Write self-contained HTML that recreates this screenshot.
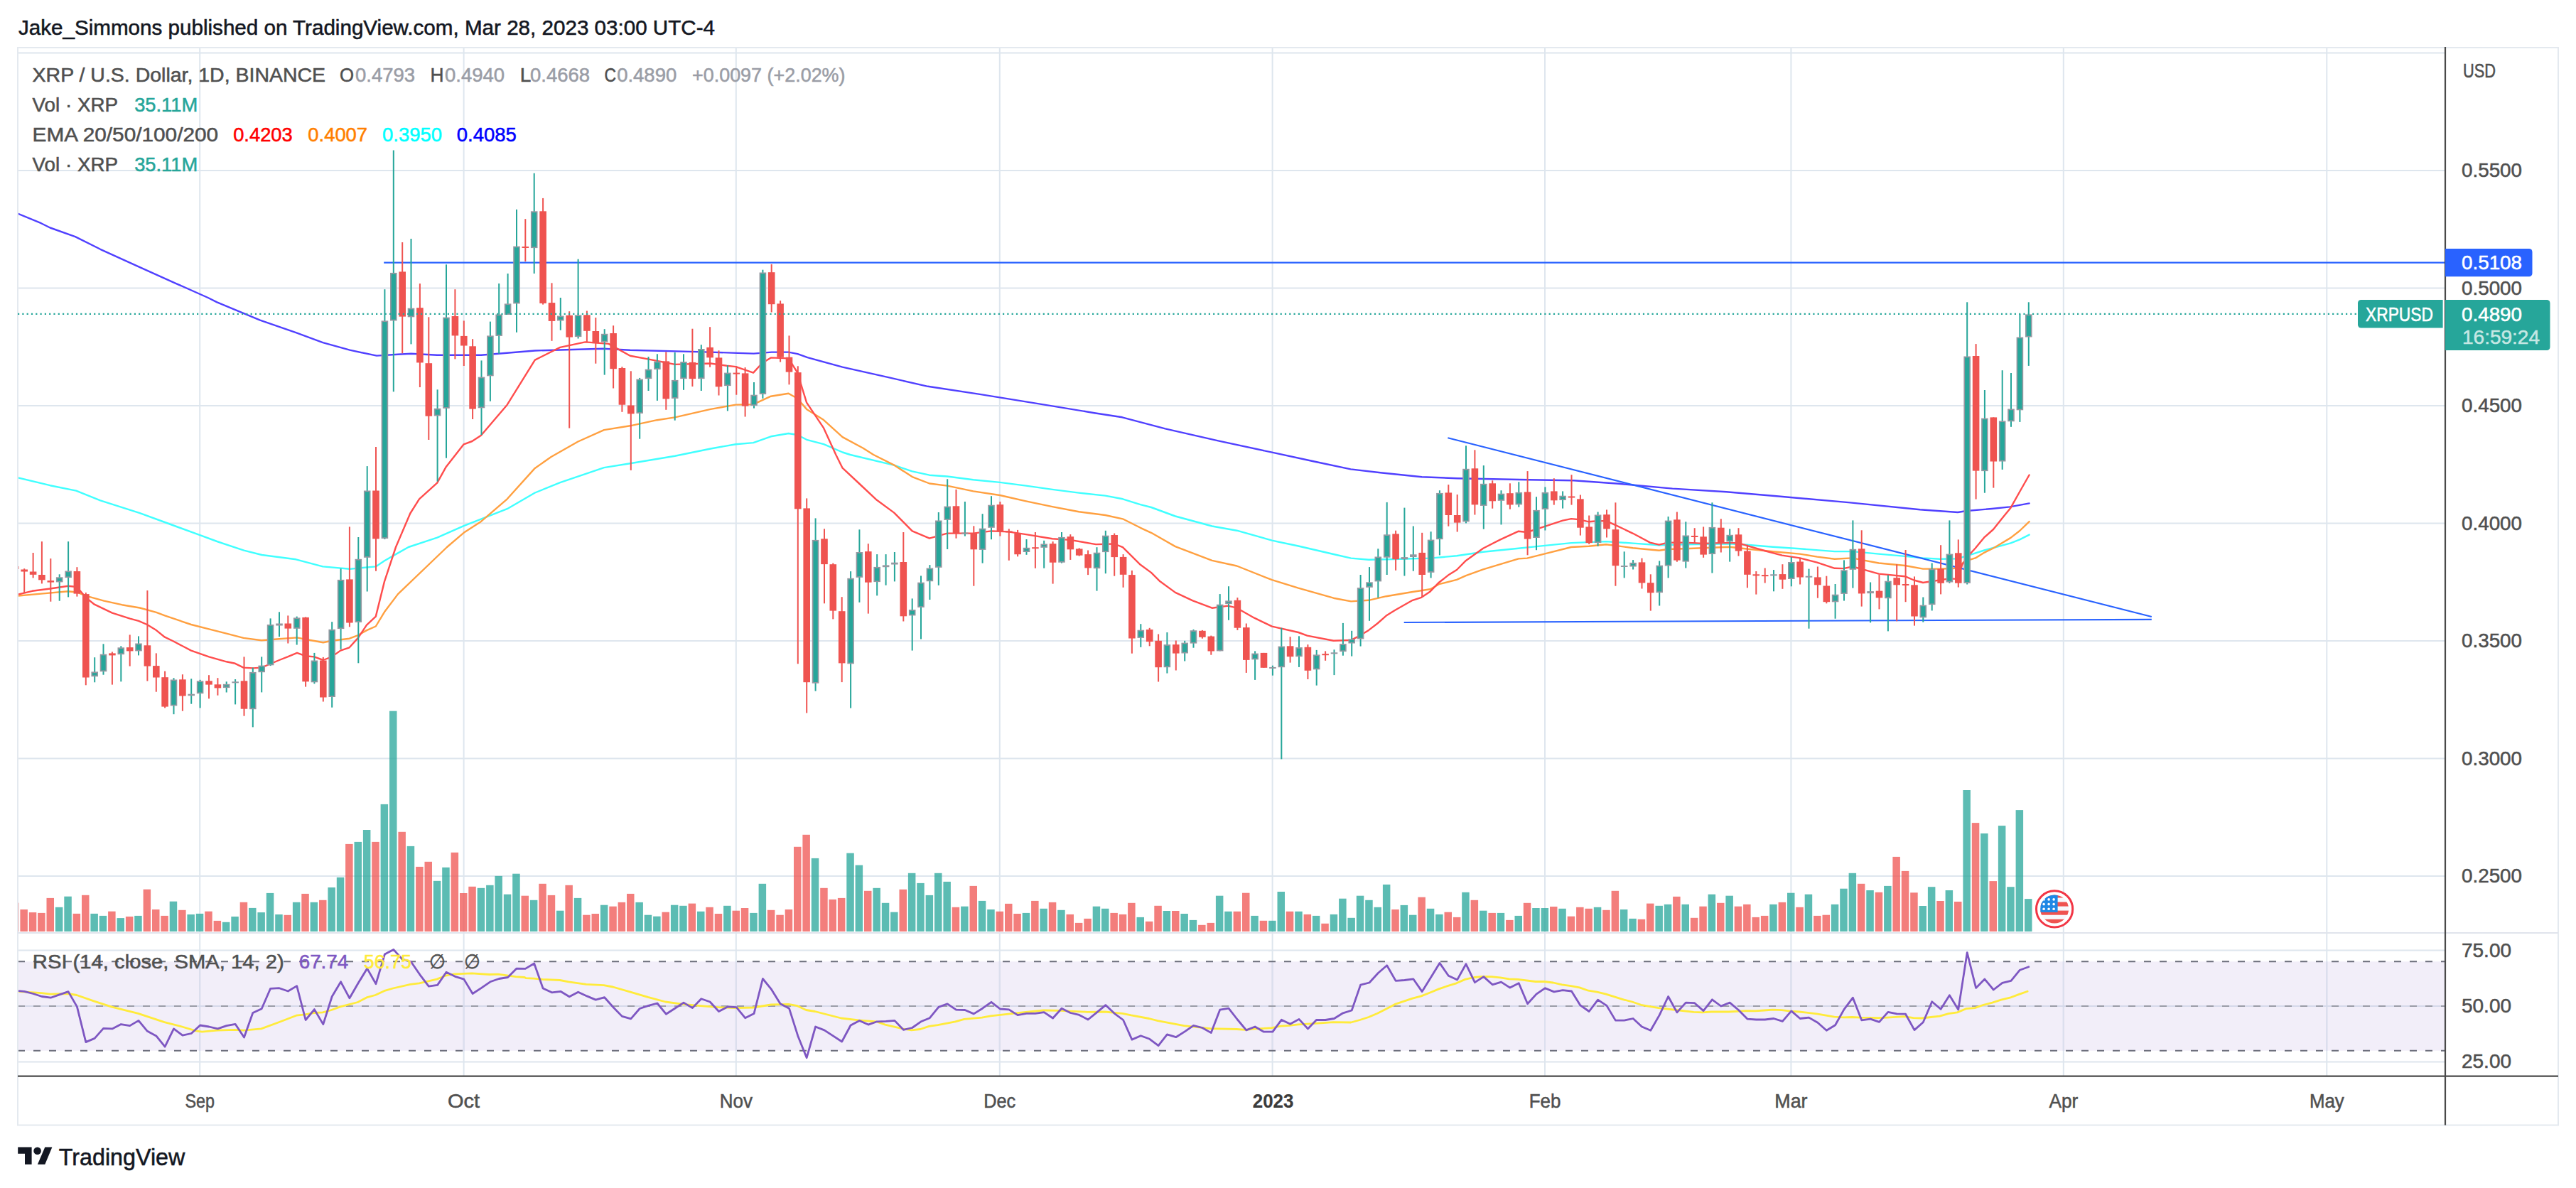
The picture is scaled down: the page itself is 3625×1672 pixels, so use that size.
<!DOCTYPE html>
<html><head><meta charset="utf-8"><title>XRPUSD chart</title>
<style>html,body{margin:0;padding:0;background:#fff;}body{width:3625px;height:1672px;overflow:hidden;font-family:"Liberation Sans",sans-serif;}svg{display:block;}</style></head>
<body>
<svg width="3625" height="1672" viewBox="0 0 3625 1672" font-family="Liberation Sans, sans-serif">
<rect width="3625" height="1672" fill="#fff"/>
<text x="26" y="49" font-size="30" fill="#131722" stroke="#131722" stroke-width="0.55" textLength="980" lengthAdjust="spacingAndGlyphs">Jake_Simmons published on TradingView.com, Mar 28, 2023 03:00 UTC-4</text>
<defs><clipPath id="cp"><rect x="26" y="67" width="3414" height="1246"/></clipPath>
<clipPath id="cr"><rect x="26" y="1313" width="3414" height="201.70000000000005"/></clipPath></defs>
<line x1="281.2" y1="67" x2="281.2" y2="1514.7" stroke="#dee6ee" stroke-width="2"/>
<line x1="652.6" y1="67" x2="652.6" y2="1514.7" stroke="#dee6ee" stroke-width="2"/>
<line x1="1035.8" y1="67" x2="1035.8" y2="1514.7" stroke="#dee6ee" stroke-width="2"/>
<line x1="1406.8" y1="67" x2="1406.8" y2="1514.7" stroke="#dee6ee" stroke-width="2"/>
<line x1="1790.6" y1="67" x2="1790.6" y2="1514.7" stroke="#dee6ee" stroke-width="2"/>
<line x1="2174" y1="67" x2="2174" y2="1514.7" stroke="#dee6ee" stroke-width="2"/>
<line x1="2520.4" y1="67" x2="2520.4" y2="1514.7" stroke="#dee6ee" stroke-width="2"/>
<line x1="2903.8" y1="67" x2="2903.8" y2="1514.7" stroke="#dee6ee" stroke-width="2"/>
<line x1="3274.3" y1="67" x2="3274.3" y2="1514.7" stroke="#dee6ee" stroke-width="2"/>
<line x1="25" y1="74.5" x2="3441" y2="74.5" stroke="#dee6ee" stroke-width="2"/>
<line x1="25" y1="240" x2="3441" y2="240" stroke="#dee6ee" stroke-width="2"/>
<line x1="25" y1="405.5" x2="3441" y2="405.5" stroke="#dee6ee" stroke-width="2"/>
<line x1="25" y1="571" x2="3441" y2="571" stroke="#dee6ee" stroke-width="2"/>
<line x1="25" y1="736.5" x2="3441" y2="736.5" stroke="#dee6ee" stroke-width="2"/>
<line x1="25" y1="902" x2="3441" y2="902" stroke="#dee6ee" stroke-width="2"/>
<line x1="25" y1="1067.5" x2="3441" y2="1067.5" stroke="#dee6ee" stroke-width="2"/>
<line x1="25" y1="1233" x2="3441" y2="1233" stroke="#dee6ee" stroke-width="2"/>
<line x1="25" y1="1337.6" x2="3441" y2="1337.6" stroke="#dee6ee" stroke-width="2"/>
<line x1="25" y1="1416" x2="3441" y2="1416" stroke="#dee6ee" stroke-width="2"/>
<line x1="25" y1="1494.4" x2="3441" y2="1494.4" stroke="#dee6ee" stroke-width="2"/>
<rect x="26" y="1353.3" width="3414" height="125.4" fill="#7e57c2" fill-opacity="0.1"/>
<line x1="281.2" y1="1353.3" x2="281.2" y2="1478.7" stroke="#dcdfee" stroke-width="2"/>
<line x1="652.6" y1="1353.3" x2="652.6" y2="1478.7" stroke="#dcdfee" stroke-width="2"/>
<line x1="1035.8" y1="1353.3" x2="1035.8" y2="1478.7" stroke="#dcdfee" stroke-width="2"/>
<line x1="1406.8" y1="1353.3" x2="1406.8" y2="1478.7" stroke="#dcdfee" stroke-width="2"/>
<line x1="1790.6" y1="1353.3" x2="1790.6" y2="1478.7" stroke="#dcdfee" stroke-width="2"/>
<line x1="2174" y1="1353.3" x2="2174" y2="1478.7" stroke="#dcdfee" stroke-width="2"/>
<line x1="2520.4" y1="1353.3" x2="2520.4" y2="1478.7" stroke="#dcdfee" stroke-width="2"/>
<line x1="2903.8" y1="1353.3" x2="2903.8" y2="1478.7" stroke="#dcdfee" stroke-width="2"/>
<line x1="3274.3" y1="1353.3" x2="3274.3" y2="1478.7" stroke="#dcdfee" stroke-width="2"/>
<line x1="25" y1="1416" x2="3441" y2="1416" stroke="#d5d9ea" stroke-width="2"/>
<g clip-path="url(#cp)">
<rect x="16" y="1270.6" width="10.5" height="40.4" fill="#ef5350" fill-opacity="0.75"/>
<rect x="28.4" y="1280" width="10.5" height="31" fill="#ef5350" fill-opacity="0.75"/>
<rect x="40.8" y="1284.1" width="10.5" height="26.9" fill="#ef5350" fill-opacity="0.75"/>
<rect x="53.1" y="1284.9" width="10.5" height="26.1" fill="#ef5350" fill-opacity="0.75"/>
<rect x="65.5" y="1263.9" width="10.5" height="47.1" fill="#ef5350" fill-opacity="0.75"/>
<rect x="77.9" y="1276.8" width="10.5" height="34.2" fill="#26a69a" fill-opacity="0.75"/>
<rect x="90.3" y="1261.7" width="10.5" height="49.3" fill="#26a69a" fill-opacity="0.75"/>
<rect x="102.6" y="1285.9" width="10.5" height="25.1" fill="#ef5350" fill-opacity="0.75"/>
<rect x="115" y="1259.8" width="10.5" height="51.2" fill="#ef5350" fill-opacity="0.75"/>
<rect x="127.4" y="1285.9" width="10.5" height="25.1" fill="#26a69a" fill-opacity="0.75"/>
<rect x="139.7" y="1288.9" width="10.5" height="22.1" fill="#26a69a" fill-opacity="0.75"/>
<rect x="152.1" y="1282.7" width="10.5" height="28.3" fill="#ef5350" fill-opacity="0.75"/>
<rect x="164.5" y="1292.1" width="10.5" height="18.9" fill="#26a69a" fill-opacity="0.75"/>
<rect x="176.9" y="1290" width="10.5" height="21" fill="#ef5350" fill-opacity="0.75"/>
<rect x="189.2" y="1288.9" width="10.5" height="22.1" fill="#26a69a" fill-opacity="0.75"/>
<rect x="201.6" y="1251.7" width="10.5" height="59.3" fill="#ef5350" fill-opacity="0.75"/>
<rect x="214" y="1280" width="10.5" height="31" fill="#ef5350" fill-opacity="0.75"/>
<rect x="226.3" y="1288.9" width="10.5" height="22.1" fill="#ef5350" fill-opacity="0.75"/>
<rect x="238.7" y="1268.7" width="10.5" height="42.3" fill="#26a69a" fill-opacity="0.75"/>
<rect x="251.1" y="1280.8" width="10.5" height="30.2" fill="#ef5350" fill-opacity="0.75"/>
<rect x="263.4" y="1287" width="10.5" height="24" fill="#26a69a" fill-opacity="0.75"/>
<rect x="275.8" y="1285.9" width="10.5" height="25.1" fill="#26a69a" fill-opacity="0.75"/>
<rect x="288.2" y="1282.7" width="10.5" height="28.3" fill="#ef5350" fill-opacity="0.75"/>
<rect x="300.6" y="1295.9" width="10.5" height="15.1" fill="#ef5350" fill-opacity="0.75"/>
<rect x="312.9" y="1297.8" width="10.5" height="13.2" fill="#26a69a" fill-opacity="0.75"/>
<rect x="325.3" y="1290" width="10.5" height="21" fill="#26a69a" fill-opacity="0.75"/>
<rect x="337.7" y="1269.8" width="10.5" height="41.2" fill="#ef5350" fill-opacity="0.75"/>
<rect x="350" y="1277.9" width="10.5" height="33.1" fill="#26a69a" fill-opacity="0.75"/>
<rect x="362.4" y="1284.1" width="10.5" height="26.9" fill="#26a69a" fill-opacity="0.75"/>
<rect x="374.8" y="1256.9" width="10.5" height="54.1" fill="#26a69a" fill-opacity="0.75"/>
<rect x="387.2" y="1287" width="10.5" height="24" fill="#26a69a" fill-opacity="0.75"/>
<rect x="399.5" y="1287.8" width="10.5" height="23.2" fill="#ef5350" fill-opacity="0.75"/>
<rect x="411.9" y="1269.8" width="10.5" height="41.2" fill="#26a69a" fill-opacity="0.75"/>
<rect x="424.3" y="1257.9" width="10.5" height="53.1" fill="#ef5350" fill-opacity="0.75"/>
<rect x="436.6" y="1269.8" width="10.5" height="41.2" fill="#26a69a" fill-opacity="0.75"/>
<rect x="449" y="1266.8" width="10.5" height="44.2" fill="#ef5350" fill-opacity="0.75"/>
<rect x="461.4" y="1249" width="10.5" height="62" fill="#26a69a" fill-opacity="0.75"/>
<rect x="473.8" y="1234.8" width="10.5" height="76.2" fill="#26a69a" fill-opacity="0.75"/>
<rect x="486.1" y="1187.9" width="10.5" height="123.1" fill="#ef5350" fill-opacity="0.75"/>
<rect x="498.5" y="1184.9" width="10.5" height="126.1" fill="#26a69a" fill-opacity="0.75"/>
<rect x="510.9" y="1168" width="10.5" height="143" fill="#26a69a" fill-opacity="0.75"/>
<rect x="523.2" y="1184.9" width="10.5" height="126.1" fill="#ef5350" fill-opacity="0.75"/>
<rect x="535.6" y="1131.9" width="10.5" height="179.1" fill="#26a69a" fill-opacity="0.75"/>
<rect x="548" y="1000.7" width="10.5" height="310.3" fill="#26a69a" fill-opacity="0.75"/>
<rect x="560.4" y="1170.8" width="10.5" height="140.2" fill="#ef5350" fill-opacity="0.75"/>
<rect x="572.7" y="1190.9" width="10.5" height="120.1" fill="#26a69a" fill-opacity="0.75"/>
<rect x="585.1" y="1219.9" width="10.5" height="91.1" fill="#ef5350" fill-opacity="0.75"/>
<rect x="597.5" y="1212.8" width="10.5" height="98.2" fill="#ef5350" fill-opacity="0.75"/>
<rect x="609.8" y="1239.8" width="10.5" height="71.2" fill="#26a69a" fill-opacity="0.75"/>
<rect x="622.2" y="1220.8" width="10.5" height="90.2" fill="#26a69a" fill-opacity="0.75"/>
<rect x="634.6" y="1199.8" width="10.5" height="111.2" fill="#ef5350" fill-opacity="0.75"/>
<rect x="647" y="1257" width="10.5" height="54" fill="#ef5350" fill-opacity="0.75"/>
<rect x="659.3" y="1247.8" width="10.5" height="63.2" fill="#ef5350" fill-opacity="0.75"/>
<rect x="671.7" y="1249.8" width="10.5" height="61.2" fill="#26a69a" fill-opacity="0.75"/>
<rect x="684.1" y="1245.8" width="10.5" height="65.2" fill="#26a69a" fill-opacity="0.75"/>
<rect x="696.4" y="1232.9" width="10.5" height="78.1" fill="#26a69a" fill-opacity="0.75"/>
<rect x="708.8" y="1258.7" width="10.5" height="52.3" fill="#26a69a" fill-opacity="0.75"/>
<rect x="721.2" y="1229.7" width="10.5" height="81.3" fill="#26a69a" fill-opacity="0.75"/>
<rect x="733.5" y="1260.7" width="10.5" height="50.3" fill="#ef5350" fill-opacity="0.75"/>
<rect x="745.9" y="1266.8" width="10.5" height="44.2" fill="#26a69a" fill-opacity="0.75"/>
<rect x="758.3" y="1243.8" width="10.5" height="67.2" fill="#ef5350" fill-opacity="0.75"/>
<rect x="770.7" y="1259.9" width="10.5" height="51.1" fill="#ef5350" fill-opacity="0.75"/>
<rect x="783" y="1281.7" width="10.5" height="29.3" fill="#26a69a" fill-opacity="0.75"/>
<rect x="795.4" y="1245.8" width="10.5" height="65.2" fill="#ef5350" fill-opacity="0.75"/>
<rect x="807.8" y="1263.9" width="10.5" height="47.1" fill="#26a69a" fill-opacity="0.75"/>
<rect x="820.1" y="1287.7" width="10.5" height="23.3" fill="#ef5350" fill-opacity="0.75"/>
<rect x="832.5" y="1286" width="10.5" height="25" fill="#ef5350" fill-opacity="0.75"/>
<rect x="844.9" y="1273.7" width="10.5" height="37.3" fill="#26a69a" fill-opacity="0.75"/>
<rect x="857.3" y="1275.7" width="10.5" height="35.3" fill="#ef5350" fill-opacity="0.75"/>
<rect x="869.6" y="1269.9" width="10.5" height="41.1" fill="#ef5350" fill-opacity="0.75"/>
<rect x="882" y="1257.9" width="10.5" height="53.1" fill="#ef5350" fill-opacity="0.75"/>
<rect x="894.4" y="1269.9" width="10.5" height="41.1" fill="#26a69a" fill-opacity="0.75"/>
<rect x="906.7" y="1287.7" width="10.5" height="23.3" fill="#26a69a" fill-opacity="0.75"/>
<rect x="919.1" y="1289.7" width="10.5" height="21.3" fill="#26a69a" fill-opacity="0.75"/>
<rect x="931.5" y="1283.7" width="10.5" height="27.3" fill="#ef5350" fill-opacity="0.75"/>
<rect x="943.9" y="1273.7" width="10.5" height="37.3" fill="#26a69a" fill-opacity="0.75"/>
<rect x="956.2" y="1274.8" width="10.5" height="36.2" fill="#26a69a" fill-opacity="0.75"/>
<rect x="968.6" y="1271.6" width="10.5" height="39.4" fill="#ef5350" fill-opacity="0.75"/>
<rect x="981" y="1282.8" width="10.5" height="28.2" fill="#26a69a" fill-opacity="0.75"/>
<rect x="993.3" y="1276.8" width="10.5" height="34.2" fill="#ef5350" fill-opacity="0.75"/>
<rect x="1005.7" y="1286" width="10.5" height="25" fill="#ef5350" fill-opacity="0.75"/>
<rect x="1018.1" y="1274.8" width="10.5" height="36.2" fill="#26a69a" fill-opacity="0.75"/>
<rect x="1030.5" y="1281.7" width="10.5" height="29.3" fill="#ef5350" fill-opacity="0.75"/>
<rect x="1042.8" y="1278" width="10.5" height="33" fill="#ef5350" fill-opacity="0.75"/>
<rect x="1055.2" y="1284.9" width="10.5" height="26.1" fill="#26a69a" fill-opacity="0.75"/>
<rect x="1067.6" y="1243.8" width="10.5" height="67.2" fill="#26a69a" fill-opacity="0.75"/>
<rect x="1079.9" y="1280.8" width="10.5" height="30.2" fill="#ef5350" fill-opacity="0.75"/>
<rect x="1092.3" y="1287.7" width="10.5" height="23.3" fill="#ef5350" fill-opacity="0.75"/>
<rect x="1104.7" y="1280" width="10.5" height="31" fill="#ef5350" fill-opacity="0.75"/>
<rect x="1117" y="1191.8" width="10.5" height="119.2" fill="#ef5350" fill-opacity="0.75"/>
<rect x="1129.4" y="1174.8" width="10.5" height="136.2" fill="#ef5350" fill-opacity="0.75"/>
<rect x="1141.8" y="1207.9" width="10.5" height="103.1" fill="#26a69a" fill-opacity="0.75"/>
<rect x="1154.2" y="1249.8" width="10.5" height="61.2" fill="#ef5350" fill-opacity="0.75"/>
<rect x="1166.5" y="1265.9" width="10.5" height="45.1" fill="#ef5350" fill-opacity="0.75"/>
<rect x="1178.9" y="1263.9" width="10.5" height="47.1" fill="#ef5350" fill-opacity="0.75"/>
<rect x="1191.3" y="1200.7" width="10.5" height="110.3" fill="#26a69a" fill-opacity="0.75"/>
<rect x="1203.6" y="1217.6" width="10.5" height="93.4" fill="#26a69a" fill-opacity="0.75"/>
<rect x="1216" y="1253.8" width="10.5" height="57.2" fill="#ef5350" fill-opacity="0.75"/>
<rect x="1228.4" y="1249.8" width="10.5" height="61.2" fill="#26a69a" fill-opacity="0.75"/>
<rect x="1240.8" y="1270.8" width="10.5" height="40.2" fill="#26a69a" fill-opacity="0.75"/>
<rect x="1253.1" y="1283.7" width="10.5" height="27.3" fill="#26a69a" fill-opacity="0.75"/>
<rect x="1265.5" y="1251.8" width="10.5" height="59.2" fill="#ef5350" fill-opacity="0.75"/>
<rect x="1277.9" y="1228.8" width="10.5" height="82.2" fill="#26a69a" fill-opacity="0.75"/>
<rect x="1290.2" y="1242.9" width="10.5" height="68.1" fill="#26a69a" fill-opacity="0.75"/>
<rect x="1302.6" y="1259.9" width="10.5" height="51.1" fill="#26a69a" fill-opacity="0.75"/>
<rect x="1315" y="1228.8" width="10.5" height="82.2" fill="#26a69a" fill-opacity="0.75"/>
<rect x="1327.4" y="1240.9" width="10.5" height="70.1" fill="#26a69a" fill-opacity="0.75"/>
<rect x="1339.7" y="1276.8" width="10.5" height="34.2" fill="#ef5350" fill-opacity="0.75"/>
<rect x="1352.1" y="1275.7" width="10.5" height="35.3" fill="#26a69a" fill-opacity="0.75"/>
<rect x="1364.5" y="1246.9" width="10.5" height="64.1" fill="#ef5350" fill-opacity="0.75"/>
<rect x="1376.8" y="1267.9" width="10.5" height="43.1" fill="#26a69a" fill-opacity="0.75"/>
<rect x="1389.2" y="1280" width="10.5" height="31" fill="#26a69a" fill-opacity="0.75"/>
<rect x="1401.6" y="1282.8" width="10.5" height="28.2" fill="#ef5350" fill-opacity="0.75"/>
<rect x="1414" y="1271.9" width="10.5" height="39.1" fill="#ef5350" fill-opacity="0.75"/>
<rect x="1426.3" y="1286" width="10.5" height="25" fill="#ef5350" fill-opacity="0.75"/>
<rect x="1438.7" y="1284.9" width="10.5" height="26.1" fill="#26a69a" fill-opacity="0.75"/>
<rect x="1451.1" y="1267.9" width="10.5" height="43.1" fill="#ef5350" fill-opacity="0.75"/>
<rect x="1463.4" y="1278.8" width="10.5" height="32.2" fill="#26a69a" fill-opacity="0.75"/>
<rect x="1475.8" y="1269.9" width="10.5" height="41.1" fill="#ef5350" fill-opacity="0.75"/>
<rect x="1488.2" y="1280.8" width="10.5" height="30.2" fill="#26a69a" fill-opacity="0.75"/>
<rect x="1500.5" y="1286.9" width="10.5" height="24.1" fill="#ef5350" fill-opacity="0.75"/>
<rect x="1512.9" y="1298.9" width="10.5" height="12.1" fill="#ef5350" fill-opacity="0.75"/>
<rect x="1525.3" y="1292.9" width="10.5" height="18.1" fill="#ef5350" fill-opacity="0.75"/>
<rect x="1537.7" y="1275.7" width="10.5" height="35.3" fill="#26a69a" fill-opacity="0.75"/>
<rect x="1550" y="1278.8" width="10.5" height="32.2" fill="#26a69a" fill-opacity="0.75"/>
<rect x="1562.4" y="1284.9" width="10.5" height="26.1" fill="#ef5350" fill-opacity="0.75"/>
<rect x="1574.8" y="1286.9" width="10.5" height="24.1" fill="#ef5350" fill-opacity="0.75"/>
<rect x="1587.1" y="1270.8" width="10.5" height="40.2" fill="#ef5350" fill-opacity="0.75"/>
<rect x="1599.5" y="1290.9" width="10.5" height="20.1" fill="#26a69a" fill-opacity="0.75"/>
<rect x="1611.9" y="1296.9" width="10.5" height="14.1" fill="#ef5350" fill-opacity="0.75"/>
<rect x="1624.3" y="1274.8" width="10.5" height="36.2" fill="#ef5350" fill-opacity="0.75"/>
<rect x="1636.6" y="1282" width="10.5" height="29" fill="#26a69a" fill-opacity="0.75"/>
<rect x="1649" y="1282" width="10.5" height="29" fill="#ef5350" fill-opacity="0.75"/>
<rect x="1661.4" y="1286" width="10.5" height="25" fill="#26a69a" fill-opacity="0.75"/>
<rect x="1673.7" y="1294.9" width="10.5" height="16.1" fill="#26a69a" fill-opacity="0.75"/>
<rect x="1686.1" y="1301.8" width="10.5" height="9.2" fill="#ef5350" fill-opacity="0.75"/>
<rect x="1698.5" y="1298.9" width="10.5" height="12.1" fill="#ef5350" fill-opacity="0.75"/>
<rect x="1710.9" y="1260.7" width="10.5" height="50.3" fill="#26a69a" fill-opacity="0.75"/>
<rect x="1723.2" y="1282.8" width="10.5" height="28.2" fill="#26a69a" fill-opacity="0.75"/>
<rect x="1735.6" y="1282.8" width="10.5" height="28.2" fill="#ef5350" fill-opacity="0.75"/>
<rect x="1748" y="1256.7" width="10.5" height="54.3" fill="#ef5350" fill-opacity="0.75"/>
<rect x="1760.3" y="1288.9" width="10.5" height="22.1" fill="#26a69a" fill-opacity="0.75"/>
<rect x="1772.7" y="1295.8" width="10.5" height="15.2" fill="#ef5350" fill-opacity="0.75"/>
<rect x="1785.1" y="1295.8" width="10.5" height="15.2" fill="#26a69a" fill-opacity="0.75"/>
<rect x="1797.5" y="1255" width="10.5" height="56" fill="#26a69a" fill-opacity="0.75"/>
<rect x="1809.8" y="1282.8" width="10.5" height="28.2" fill="#ef5350" fill-opacity="0.75"/>
<rect x="1822.2" y="1282.8" width="10.5" height="28.2" fill="#26a69a" fill-opacity="0.75"/>
<rect x="1834.6" y="1286.9" width="10.5" height="24.1" fill="#ef5350" fill-opacity="0.75"/>
<rect x="1846.9" y="1288.9" width="10.5" height="22.1" fill="#26a69a" fill-opacity="0.75"/>
<rect x="1859.3" y="1299.8" width="10.5" height="11.2" fill="#ef5350" fill-opacity="0.75"/>
<rect x="1871.7" y="1286.9" width="10.5" height="24.1" fill="#26a69a" fill-opacity="0.75"/>
<rect x="1884.1" y="1264.7" width="10.5" height="46.3" fill="#26a69a" fill-opacity="0.75"/>
<rect x="1896.4" y="1291.8" width="10.5" height="19.2" fill="#26a69a" fill-opacity="0.75"/>
<rect x="1908.8" y="1260.7" width="10.5" height="50.3" fill="#26a69a" fill-opacity="0.75"/>
<rect x="1921.2" y="1266.8" width="10.5" height="44.2" fill="#26a69a" fill-opacity="0.75"/>
<rect x="1933.5" y="1276.8" width="10.5" height="34.2" fill="#26a69a" fill-opacity="0.75"/>
<rect x="1945.9" y="1244.9" width="10.5" height="66.1" fill="#26a69a" fill-opacity="0.75"/>
<rect x="1958.3" y="1280" width="10.5" height="31" fill="#ef5350" fill-opacity="0.75"/>
<rect x="1970.6" y="1273.9" width="10.5" height="37.1" fill="#26a69a" fill-opacity="0.75"/>
<rect x="1983" y="1287.7" width="10.5" height="23.3" fill="#26a69a" fill-opacity="0.75"/>
<rect x="1995.4" y="1262.7" width="10.5" height="48.3" fill="#ef5350" fill-opacity="0.75"/>
<rect x="2007.8" y="1278.8" width="10.5" height="32.2" fill="#26a69a" fill-opacity="0.75"/>
<rect x="2020.1" y="1286.9" width="10.5" height="24.1" fill="#26a69a" fill-opacity="0.75"/>
<rect x="2032.5" y="1283.7" width="10.5" height="27.3" fill="#ef5350" fill-opacity="0.75"/>
<rect x="2044.9" y="1290.9" width="10.5" height="20.1" fill="#ef5350" fill-opacity="0.75"/>
<rect x="2057.2" y="1255.8" width="10.5" height="55.2" fill="#26a69a" fill-opacity="0.75"/>
<rect x="2069.6" y="1266.8" width="10.5" height="44.2" fill="#ef5350" fill-opacity="0.75"/>
<rect x="2082" y="1281.7" width="10.5" height="29.3" fill="#26a69a" fill-opacity="0.75"/>
<rect x="2094.4" y="1284.9" width="10.5" height="26.1" fill="#ef5350" fill-opacity="0.75"/>
<rect x="2106.7" y="1284.9" width="10.5" height="26.1" fill="#26a69a" fill-opacity="0.75"/>
<rect x="2119.1" y="1294.9" width="10.5" height="16.1" fill="#ef5350" fill-opacity="0.75"/>
<rect x="2131.5" y="1288.9" width="10.5" height="22.1" fill="#26a69a" fill-opacity="0.75"/>
<rect x="2143.8" y="1270.8" width="10.5" height="40.2" fill="#ef5350" fill-opacity="0.75"/>
<rect x="2156.2" y="1278" width="10.5" height="33" fill="#26a69a" fill-opacity="0.75"/>
<rect x="2168.6" y="1278" width="10.5" height="33" fill="#26a69a" fill-opacity="0.75"/>
<rect x="2181" y="1276" width="10.5" height="35" fill="#ef5350" fill-opacity="0.75"/>
<rect x="2193.3" y="1278.8" width="10.5" height="32.2" fill="#26a69a" fill-opacity="0.75"/>
<rect x="2205.7" y="1289.7" width="10.5" height="21.3" fill="#ef5350" fill-opacity="0.75"/>
<rect x="2218.1" y="1276.8" width="10.5" height="34.2" fill="#ef5350" fill-opacity="0.75"/>
<rect x="2230.4" y="1278.8" width="10.5" height="32.2" fill="#ef5350" fill-opacity="0.75"/>
<rect x="2242.8" y="1276.8" width="10.5" height="34.2" fill="#26a69a" fill-opacity="0.75"/>
<rect x="2255.2" y="1280.8" width="10.5" height="30.2" fill="#ef5350" fill-opacity="0.75"/>
<rect x="2267.6" y="1253.8" width="10.5" height="57.2" fill="#ef5350" fill-opacity="0.75"/>
<rect x="2279.9" y="1280" width="10.5" height="31" fill="#26a69a" fill-opacity="0.75"/>
<rect x="2292.3" y="1292.9" width="10.5" height="18.1" fill="#26a69a" fill-opacity="0.75"/>
<rect x="2304.7" y="1293.8" width="10.5" height="17.2" fill="#ef5350" fill-opacity="0.75"/>
<rect x="2317" y="1271.6" width="10.5" height="39.4" fill="#ef5350" fill-opacity="0.75"/>
<rect x="2329.4" y="1274.8" width="10.5" height="36.2" fill="#26a69a" fill-opacity="0.75"/>
<rect x="2341.8" y="1272.8" width="10.5" height="38.2" fill="#26a69a" fill-opacity="0.75"/>
<rect x="2354.1" y="1261.9" width="10.5" height="49.1" fill="#ef5350" fill-opacity="0.75"/>
<rect x="2366.5" y="1272.8" width="10.5" height="38.2" fill="#26a69a" fill-opacity="0.75"/>
<rect x="2378.9" y="1291.8" width="10.5" height="19.2" fill="#ef5350" fill-opacity="0.75"/>
<rect x="2391.3" y="1275.7" width="10.5" height="35.3" fill="#ef5350" fill-opacity="0.75"/>
<rect x="2403.6" y="1258.7" width="10.5" height="52.3" fill="#26a69a" fill-opacity="0.75"/>
<rect x="2416" y="1270.8" width="10.5" height="40.2" fill="#ef5350" fill-opacity="0.75"/>
<rect x="2428.4" y="1260.7" width="10.5" height="50.3" fill="#26a69a" fill-opacity="0.75"/>
<rect x="2440.7" y="1275.7" width="10.5" height="35.3" fill="#ef5350" fill-opacity="0.75"/>
<rect x="2453.1" y="1272.8" width="10.5" height="38.2" fill="#ef5350" fill-opacity="0.75"/>
<rect x="2465.5" y="1290.9" width="10.5" height="20.1" fill="#ef5350" fill-opacity="0.75"/>
<rect x="2477.9" y="1288.9" width="10.5" height="22.1" fill="#ef5350" fill-opacity="0.75"/>
<rect x="2490.2" y="1272.8" width="10.5" height="38.2" fill="#26a69a" fill-opacity="0.75"/>
<rect x="2502.6" y="1269.9" width="10.5" height="41.1" fill="#ef5350" fill-opacity="0.75"/>
<rect x="2515" y="1256.7" width="10.5" height="54.3" fill="#26a69a" fill-opacity="0.75"/>
<rect x="2527.3" y="1276.8" width="10.5" height="34.2" fill="#ef5350" fill-opacity="0.75"/>
<rect x="2539.7" y="1258.7" width="10.5" height="52.3" fill="#26a69a" fill-opacity="0.75"/>
<rect x="2552.1" y="1288.9" width="10.5" height="22.1" fill="#ef5350" fill-opacity="0.75"/>
<rect x="2564.5" y="1287.7" width="10.5" height="23.3" fill="#ef5350" fill-opacity="0.75"/>
<rect x="2576.8" y="1272.8" width="10.5" height="38.2" fill="#26a69a" fill-opacity="0.75"/>
<rect x="2589.2" y="1250.7" width="10.5" height="60.3" fill="#26a69a" fill-opacity="0.75"/>
<rect x="2601.6" y="1228.8" width="10.5" height="82.2" fill="#26a69a" fill-opacity="0.75"/>
<rect x="2613.9" y="1243.8" width="10.5" height="67.2" fill="#ef5350" fill-opacity="0.75"/>
<rect x="2626.3" y="1253" width="10.5" height="58" fill="#26a69a" fill-opacity="0.75"/>
<rect x="2638.7" y="1255.8" width="10.5" height="55.2" fill="#ef5350" fill-opacity="0.75"/>
<rect x="2651.1" y="1246.9" width="10.5" height="64.1" fill="#26a69a" fill-opacity="0.75"/>
<rect x="2663.4" y="1205.9" width="10.5" height="105.1" fill="#ef5350" fill-opacity="0.75"/>
<rect x="2675.8" y="1225.9" width="10.5" height="85.1" fill="#ef5350" fill-opacity="0.75"/>
<rect x="2688.2" y="1256.3" width="10.5" height="54.7" fill="#ef5350" fill-opacity="0.75"/>
<rect x="2700.5" y="1275" width="10.5" height="36" fill="#26a69a" fill-opacity="0.75"/>
<rect x="2712.9" y="1248.2" width="10.5" height="62.8" fill="#26a69a" fill-opacity="0.75"/>
<rect x="2725.3" y="1268" width="10.5" height="43" fill="#ef5350" fill-opacity="0.75"/>
<rect x="2737.6" y="1253" width="10.5" height="58" fill="#26a69a" fill-opacity="0.75"/>
<rect x="2750" y="1269" width="10.5" height="42" fill="#ef5350" fill-opacity="0.75"/>
<rect x="2762.4" y="1112" width="10.5" height="199" fill="#26a69a" fill-opacity="0.75"/>
<rect x="2774.8" y="1158.1" width="10.5" height="152.9" fill="#ef5350" fill-opacity="0.75"/>
<rect x="2787.1" y="1173" width="10.5" height="138" fill="#26a69a" fill-opacity="0.75"/>
<rect x="2799.5" y="1240.1" width="10.5" height="70.9" fill="#ef5350" fill-opacity="0.75"/>
<rect x="2811.9" y="1162.1" width="10.5" height="148.9" fill="#26a69a" fill-opacity="0.75"/>
<rect x="2824.2" y="1248.2" width="10.5" height="62.8" fill="#26a69a" fill-opacity="0.75"/>
<rect x="2836.6" y="1140.1" width="10.5" height="170.9" fill="#26a69a" fill-opacity="0.75"/>
<rect x="2849" y="1265.1" width="10.5" height="45.9" fill="#26a69a" fill-opacity="0.75"/>
</g>
<rect x="25" y="67" width="3575" height="1516.5" fill="none" stroke="#e4e9ef" stroke-width="2"/>
<line x1="25" y1="1313" x2="3600" y2="1313" stroke="#e0e4ec" stroke-width="2"/>
<g clip-path="url(#cp)">
<polyline points="25.6,300.8 57.9,314.2 70.5,320.5 105.9,333.1 141.2,350.8 196.8,376.1 247.3,398.8 292.7,419 305.4,425.3 366,450.6 416.5,468.2 454.3,482.1 492.2,492.7 530.1,500.6 560,498.8 578.6,497.8 615.2,499.8 677,499.8 752.8,493.5 848.8,490.7 886.7,492.7 1000,495.6 1060.6,497.6 1085.9,495.6 1109.8,495.6 1122.5,498.1 1136.4,503.2 1185.6,516.6 1252.5,531.7 1305.6,543.8 1378.8,554.9 1454.5,567.1 1540,581.2 1579.2,587.3 1639.8,603.4 1714.3,620.4 1790,636.7 1849.4,649.5 1900.7,660.4 1942.6,665.3 2000.8,671.3 2050.5,673.2 2151.5,675.3 2214.6,676.3 2277.8,680.8 2353.5,687.6 2429.3,692.2 2500,698.3 2601,707.1 2702,717.2 2755,721 2767.7,719 2803,716 2828.3,713.4 2855.6,708.4" fill="none" stroke="#5040ff" stroke-width="2.4" stroke-linejoin="round" stroke-linecap="round"/>
<polyline points="25.6,672.4 70.5,683.2 107.1,690.6 141.2,704.4 196.8,722.1 234.6,736 281.4,753.2 305.4,762 343.2,774.6 368.5,781 416.5,787.3 454.3,797.4 492.2,800.7 528.8,797.4 541,789.3 560,778.4 574.8,770 615.2,756.6 652.6,740.2 713.7,716.2 752.8,693.5 788.2,679.1 850,658.1 886.7,652.3 949.8,641.7 1000,631.5 1035.4,625.2 1060.1,623.1 1084.8,614.3 1109.6,610 1122,612 1135.1,618.8 1159.1,625.2 1185.6,636.5 1196.5,640 1258.8,654.9 1283.7,663.4 1308,668.7 1332.9,670.5 1369.7,675.2 1407.1,678.9 1443.8,683.6 1480.9,688.9 1518.2,693.6 1555.3,697.6 1579.9,702.3 1604.8,710.1 1620,714 1653.9,726.5 1705.6,740.5 1740.5,746.7 1790,760.7 1827.1,768.5 1876.6,780 1901.2,785.6 1926.1,787.8 1950.7,787.2 1987.8,786.3 2012.7,785.6 2050,782.3 2087.1,776.8 2136.9,771.7 2174,767.9 2211.1,764.1 2260.1,762.1 2298,764.6 2334.8,767.2 2371.7,766.2 2433.8,765.4 2458.1,766.7 2494.9,769.7 2532.8,772.3 2581.8,776.1 2606.8,776.1 2643.9,779.6 2680.8,782.9 2706.1,785.4 2730.1,786.7 2755.1,786.2 2774,780.4 2792.2,774.5 2805.1,771 2829.5,764.4 2842.2,759.4 2855.6,752.6" fill="none" stroke="#40ffff" stroke-width="2.4" stroke-linejoin="round" stroke-linecap="round"/>
<polyline points="25.6,838.6 57.9,835.6 95.8,832.3 108.1,833.5 121,838.6 146.3,845.7 171.5,851.2 196.8,855.5 220,861.8 231.9,866.4 269,879 294,885.3 318.7,891.6 342.7,897.9 368,901.2 393,899.2 418,897.4 429.8,899.7 454.8,904.2 467,901.7 491.7,898.7 503.8,894.1 516,887.1 528.8,881.5 541,861.3 560,836.1 629,770 652.6,749.8 677,733.9 713.7,702.3 752.8,658.9 775.6,643 813.4,621.5 850,605.1 886.7,599.3 924.5,591.2 949.8,587.4 1000,575.9 1035.4,569.6 1060.1,569.1 1084.8,557.7 1109.6,553.7 1122,560.8 1135.1,575.9 1159.1,591.1 1185.6,615.1 1214.6,630.7 1229.2,640 1258.8,654.9 1283.7,671.1 1308,680.5 1332.9,683.6 1369.7,691.4 1407.1,697 1443.8,705.4 1480.9,713.2 1518.2,720.3 1555.3,725 1579.9,730.3 1604.8,742.8 1620,749.8 1653.9,769.1 1705.6,788.8 1740.5,796.5 1790,816.2 1827.1,827.7 1876.6,841.7 1901.2,846.4 1926.1,844.8 1950.7,839.2 1987.8,833 2012.7,829.2 2025,822.2 2050,815.9 2062.9,810.1 2087.1,801.3 2136.9,786.4 2149,785.6 2174,779.3 2211.1,770 2235.9,768.7 2260.1,766.2 2273,767.9 2298,771.2 2334.8,774.7 2347,773 2383.8,771.7 2433.8,769.7 2458.1,772.5 2494.9,776.3 2532.8,779.6 2557.1,783.6 2581.8,786.7 2606.8,785.4 2618.9,787.9 2643.9,792.5 2680.8,796 2706.1,800.6 2730.1,800.6 2755.1,799.8 2762.6,791.7 2774,787.2 2779.8,785.4 2792.2,777.8 2805.1,771.5 2829.5,756.9 2842.2,747 2855.6,734.1" fill="none" stroke="#ffa040" stroke-width="2.4" stroke-linejoin="round" stroke-linecap="round"/>
<polyline points="25.6,836.6 45.3,831.8 70.5,828.5 95.8,824.7 108.1,826 121,841.1 132.9,850.7 157.9,862.6 182.9,870.7 195,873.9 206.9,879 220,887.1 231.9,896.7 244,902.5 269,915.6 294,924.4 318.7,931.3 330.9,933.8 342.7,939.6 355.9,940.4 368,939.6 380.1,934.5 393,929 404.8,924.4 418,918.9 429.8,923.2 442,924.4 454.8,929 467,924.4 479.1,915.6 491.7,911.3 503.8,897.9 516,879.7 528.8,867.6 541,818.4 557,770 577.3,722.5 590,702.3 615.2,679.6 627.8,656.9 652.6,625.3 664.4,621 677,612.7 713.7,569.7 752.8,506.6 788.2,488.9 823.5,481.4 856.4,483.9 886.7,500.8 911.9,505.4 949.8,512.9 1000,511.5 1022.7,514.8 1035.4,516.1 1060.1,524.6 1072.5,511 1084.8,503.4 1109.6,504.4 1122,524.1 1135.1,566.6 1159.1,602.4 1176.3,640 1185.6,658.7 1209,680.5 1233.9,703.8 1258.2,721.6 1283.7,747.4 1308,757.7 1332.9,750.6 1369.7,750.6 1394.9,747.4 1418.9,748.4 1443.8,752.1 1480.9,758.3 1505.8,759.9 1542.2,766.1 1568.1,765.5 1579.9,770.2 1604.8,794.8 1620,805.9 1632.5,818.3 1653.9,833.9 1678.5,845.4 1705.6,855.7 1728.1,852.6 1740.5,855.7 1765.1,869.7 1790,881.6 1827.1,890 1839.6,894.6 1876.6,901.8 1901.2,900.9 1913.7,894.6 1926.1,886.9 1938.3,877.5 1950.7,866.6 1963.2,858.8 1987.8,844.8 2000.3,840.8 2012.7,832.4 2025,819.7 2037.9,809.6 2050,802 2062.9,788.9 2087.1,771.7 2111.9,759.1 2136.9,747.7 2149,749 2174,740.9 2199,732.6 2211.1,730.1 2223,731.3 2235.9,734.3 2248,733.3 2260.1,733.1 2273,738.9 2298,750.8 2322,763.6 2334.8,766.7 2347,763.6 2371.7,763.6 2396.7,764.9 2421,764.1 2446,764.1 2458.1,767.9 2482.8,775 2507.8,781.6 2532.8,785.4 2557.1,791.7 2581.8,799.8 2594.2,800.1 2606.8,797.5 2618.9,800.6 2643.9,807.6 2680.8,811.2 2693.2,816.5 2706.1,820 2717.9,818.2 2742.9,814.4 2755.1,814.9 2761.4,794.2 2774,777.8 2779.8,771.5 2792.2,756.4 2805.1,745 2817.2,729.8 2829.5,714.7 2842.2,692 2855.6,668.5" fill="none" stroke="#ff4d4d" stroke-width="2.4" stroke-linejoin="round" stroke-linecap="round"/>
<line x1="540.2" y1="369.6" x2="3441" y2="369.6" stroke="#2962ff" stroke-width="2.2"/>
<line x1="2037.4" y1="616.3" x2="3027.8" y2="868" stroke="#2962ff" stroke-width="2.2"/>
<line x1="1975.7" y1="876" x2="3027.8" y2="871.8" stroke="#2962ff" stroke-width="2.2"/>
<rect x="20.8" y="797" width="2" height="4" fill="#ef5350"/>
<rect x="17" y="797" width="9.6" height="4" fill="#ef5350"/>
<rect x="33.2" y="800.2" width="2" height="34.6" fill="#ef5350"/>
<rect x="29.4" y="801.5" width="9.6" height="3" fill="#ef5350"/>
<rect x="45.6" y="778" width="2" height="35.4" fill="#ef5350"/>
<rect x="41.8" y="804.5" width="9.6" height="4.3" fill="#ef5350"/>
<rect x="57.9" y="762.1" width="2" height="59.3" fill="#ef5350"/>
<rect x="54.1" y="809" width="9.6" height="7.3" fill="#ef5350"/>
<rect x="70.3" y="786.1" width="2" height="60.6" fill="#ef5350"/>
<rect x="66.5" y="817.1" width="9.6" height="2.5" fill="#ef5350"/>
<rect x="82.7" y="808.3" width="2" height="37.4" fill="#26a69a"/>
<rect x="78.9" y="812.3" width="9.6" height="7.1" fill="#9598a1"/><rect x="80.6" y="814" width="6.2" height="3.7" fill="#26a69a"/>
<rect x="95.1" y="762.1" width="2" height="78.3" fill="#26a69a"/>
<rect x="91.3" y="803.5" width="9.6" height="9.6" fill="#9598a1"/><rect x="93" y="805.2" width="6.2" height="6.2" fill="#26a69a"/>
<rect x="107.4" y="798.2" width="2" height="41.4" fill="#ef5350"/>
<rect x="103.6" y="804" width="9.6" height="31.6" fill="#ef5350"/>
<rect x="119.8" y="834" width="2" height="130.3" fill="#ef5350"/>
<rect x="116" y="836.1" width="9.6" height="117.4" fill="#ef5350"/>
<rect x="132.2" y="925.2" width="2" height="35.1" fill="#26a69a"/>
<rect x="128.4" y="945.4" width="9.6" height="6.8" fill="#9598a1"/><rect x="130.1" y="947.1" width="6.2" height="3.4" fill="#26a69a"/>
<rect x="144.5" y="906.3" width="2" height="43.4" fill="#26a69a"/>
<rect x="140.7" y="920.7" width="9.6" height="24.5" fill="#9598a1"/><rect x="142.4" y="922.4" width="6.2" height="21.1" fill="#26a69a"/>
<rect x="156.9" y="917.4" width="2" height="46.2" fill="#ef5350"/>
<rect x="153.1" y="919.4" width="9.6" height="3" fill="#ef5350"/>
<rect x="169.3" y="909.3" width="2" height="50" fill="#26a69a"/>
<rect x="165.5" y="911.3" width="9.6" height="9.8" fill="#9598a1"/><rect x="167.2" y="913" width="6.2" height="6.4" fill="#26a69a"/>
<rect x="181.7" y="893.4" width="2" height="44.2" fill="#ef5350"/>
<rect x="177.9" y="911.1" width="9.6" height="5.3" fill="#ef5350"/>
<rect x="194" y="895.4" width="2" height="27" fill="#26a69a"/>
<rect x="190.2" y="905.5" width="9.6" height="10.9" fill="#9598a1"/><rect x="191.9" y="907.2" width="6.2" height="7.5" fill="#26a69a"/>
<rect x="206.4" y="831" width="2" height="127.5" fill="#ef5350"/>
<rect x="202.6" y="908.3" width="9.6" height="29.3" fill="#ef5350"/>
<rect x="218.8" y="919.4" width="2" height="54.3" fill="#ef5350"/>
<rect x="215" y="937.1" width="9.6" height="16.4" fill="#ef5350"/>
<rect x="231.1" y="944.6" width="2" height="51.8" fill="#ef5350"/>
<rect x="227.3" y="953.2" width="9.6" height="41.4" fill="#ef5350"/>
<rect x="243.5" y="954.2" width="2" height="51" fill="#26a69a"/>
<rect x="239.7" y="956.5" width="9.6" height="36.9" fill="#9598a1"/><rect x="241.4" y="958.2" width="6.2" height="33.5" fill="#26a69a"/>
<rect x="255.9" y="949.2" width="2" height="51.5" fill="#ef5350"/>
<rect x="252.1" y="956.3" width="9.6" height="23.2" fill="#ef5350"/>
<rect x="268.2" y="955.3" width="2" height="35.4" fill="#26a69a"/>
<rect x="264.4" y="976.7" width="9.6" height="2.5" fill="#9598a1"/>
<rect x="280.6" y="956.8" width="2" height="39.6" fill="#26a69a"/>
<rect x="276.8" y="958.3" width="9.6" height="17.9" fill="#9598a1"/><rect x="278.5" y="960" width="6.2" height="14.5" fill="#26a69a"/>
<rect x="293" y="950.2" width="2" height="33.1" fill="#ef5350"/>
<rect x="289.2" y="958.3" width="9.6" height="5.3" fill="#ef5350"/>
<rect x="305.4" y="954.2" width="2" height="24.5" fill="#ef5350"/>
<rect x="301.6" y="963.3" width="9.6" height="5.1" fill="#ef5350"/>
<rect x="317.7" y="959.3" width="2" height="15.2" fill="#26a69a"/>
<rect x="313.9" y="962.8" width="9.6" height="5.3" fill="#9598a1"/><rect x="315.6" y="964.5" width="6.2" height="1.9" fill="#26a69a"/>
<rect x="330.1" y="956" width="2" height="35.4" fill="#26a69a"/>
<rect x="326.3" y="959.3" width="9.6" height="2" fill="#9598a1"/>
<rect x="342.5" y="924.4" width="2" height="83.3" fill="#ef5350"/>
<rect x="338.7" y="958.3" width="9.6" height="39.4" fill="#ef5350"/>
<rect x="354.8" y="939.6" width="2" height="83.8" fill="#26a69a"/>
<rect x="351" y="945.9" width="9.6" height="52.3" fill="#9598a1"/><rect x="352.7" y="947.6" width="6.2" height="48.9" fill="#26a69a"/>
<rect x="367.2" y="924.4" width="2" height="50" fill="#26a69a"/>
<rect x="363.4" y="936.6" width="9.6" height="9.6" fill="#9598a1"/><rect x="365.1" y="938.3" width="6.2" height="6.2" fill="#26a69a"/>
<rect x="379.6" y="870.4" width="2" height="66.7" fill="#26a69a"/>
<rect x="375.8" y="879" width="9.6" height="57.3" fill="#9598a1"/><rect x="377.5" y="880.7" width="6.2" height="53.9" fill="#26a69a"/>
<rect x="392" y="861.3" width="2" height="34.8" fill="#26a69a"/>
<rect x="388.2" y="877.5" width="9.6" height="3" fill="#9598a1"/>
<rect x="404.3" y="866.4" width="2" height="39.1" fill="#ef5350"/>
<rect x="400.5" y="877.5" width="9.6" height="7.1" fill="#ef5350"/>
<rect x="416.7" y="867.6" width="2" height="39.9" fill="#26a69a"/>
<rect x="412.9" y="869.4" width="9.6" height="15.4" fill="#9598a1"/><rect x="414.6" y="871.1" width="6.2" height="12" fill="#26a69a"/>
<rect x="429.1" y="868.4" width="2" height="98.2" fill="#ef5350"/>
<rect x="425.3" y="868.9" width="9.6" height="90.4" fill="#ef5350"/>
<rect x="441.4" y="918.9" width="2" height="43.4" fill="#26a69a"/>
<rect x="437.6" y="929.5" width="9.6" height="30.8" fill="#9598a1"/><rect x="439.3" y="931.2" width="6.2" height="27.4" fill="#26a69a"/>
<rect x="453.8" y="924.9" width="2" height="62.6" fill="#ef5350"/>
<rect x="450" y="929.5" width="9.6" height="52" fill="#ef5350"/>
<rect x="466.2" y="875.2" width="2" height="120.5" fill="#26a69a"/>
<rect x="462.4" y="885.8" width="9.6" height="95.2" fill="#9598a1"/><rect x="464.1" y="887.5" width="6.2" height="91.8" fill="#26a69a"/>
<rect x="478.6" y="800.2" width="2" height="113.6" fill="#26a69a"/>
<rect x="474.8" y="815.9" width="9.6" height="69.2" fill="#9598a1"/><rect x="476.5" y="817.6" width="6.2" height="65.8" fill="#26a69a"/>
<rect x="490.9" y="741.4" width="2" height="140.9" fill="#ef5350"/>
<rect x="487.1" y="815.4" width="9.6" height="61.1" fill="#ef5350"/>
<rect x="503.3" y="756" width="2" height="177.3" fill="#26a69a"/>
<rect x="499.5" y="786.8" width="9.6" height="89.1" fill="#9598a1"/><rect x="501.2" y="788.5" width="6.2" height="85.7" fill="#26a69a"/>
<rect x="515.7" y="656.1" width="2" height="176.4" fill="#26a69a"/>
<rect x="511.9" y="690.5" width="9.6" height="94.3" fill="#9598a1"/><rect x="513.6" y="692.2" width="6.2" height="90.9" fill="#26a69a"/>
<rect x="528" y="629" width="2" height="174.7" fill="#ef5350"/>
<rect x="524.2" y="690.5" width="9.6" height="67.9" fill="#ef5350"/>
<rect x="540.4" y="407.2" width="2" height="351.8" fill="#26a69a"/>
<rect x="536.6" y="451.4" width="9.6" height="306.6" fill="#9598a1"/><rect x="538.3" y="453.1" width="6.2" height="303.2" fill="#26a69a"/>
<rect x="552.8" y="211.5" width="2" height="339.8" fill="#26a69a"/>
<rect x="549" y="383.9" width="9.6" height="67.5" fill="#9598a1"/><rect x="550.7" y="385.6" width="6.2" height="64.1" fill="#26a69a"/>
<rect x="565.2" y="341" width="2" height="156.3" fill="#ef5350"/>
<rect x="561.4" y="382.4" width="9.6" height="63.2" fill="#ef5350"/>
<rect x="577.5" y="336" width="2" height="148.4" fill="#26a69a"/>
<rect x="573.7" y="433.7" width="9.6" height="12.6" fill="#9598a1"/><rect x="575.4" y="435.4" width="6.2" height="9.2" fill="#26a69a"/>
<rect x="589.9" y="399.1" width="2" height="145.9" fill="#ef5350"/>
<rect x="586.1" y="433.2" width="9.6" height="77.2" fill="#ef5350"/>
<rect x="602.3" y="446.3" width="2" height="172.7" fill="#ef5350"/>
<rect x="598.5" y="511.2" width="9.6" height="74.5" fill="#ef5350"/>
<rect x="614.6" y="548.3" width="2" height="129.3" fill="#26a69a"/>
<rect x="610.8" y="574.8" width="9.6" height="10.6" fill="#9598a1"/><rect x="612.5" y="576.5" width="6.2" height="7.2" fill="#26a69a"/>
<rect x="627" y="372.3" width="2" height="272.4" fill="#26a69a"/>
<rect x="623.2" y="446.6" width="9.6" height="128.2" fill="#9598a1"/><rect x="624.9" y="448.3" width="6.2" height="124.8" fill="#26a69a"/>
<rect x="639.4" y="407.2" width="2" height="98.2" fill="#ef5350"/>
<rect x="635.6" y="445" width="9.6" height="27.4" fill="#ef5350"/>
<rect x="651.8" y="451.4" width="2" height="63.6" fill="#ef5350"/>
<rect x="648" y="472.9" width="9.6" height="13.6" fill="#ef5350"/>
<rect x="664.1" y="477.2" width="2" height="112.8" fill="#ef5350"/>
<rect x="660.3" y="487.3" width="9.6" height="88.3" fill="#ef5350"/>
<rect x="676.5" y="507.4" width="2" height="104.6" fill="#26a69a"/>
<rect x="672.7" y="530.6" width="9.6" height="43.7" fill="#9598a1"/><rect x="674.4" y="532.3" width="6.2" height="40.3" fill="#26a69a"/>
<rect x="688.9" y="452.6" width="2" height="112.1" fill="#26a69a"/>
<rect x="685.1" y="472.4" width="9.6" height="56.9" fill="#9598a1"/><rect x="686.8" y="474.1" width="6.2" height="53.5" fill="#26a69a"/>
<rect x="701.2" y="399" width="2" height="98.8" fill="#26a69a"/>
<rect x="697.4" y="442.5" width="9.6" height="30.4" fill="#9598a1"/><rect x="699.1" y="444.2" width="6.2" height="27" fill="#26a69a"/>
<rect x="713.6" y="385" width="2" height="58" fill="#26a69a"/>
<rect x="709.8" y="427.4" width="9.6" height="15.6" fill="#9598a1"/><rect x="711.5" y="429.1" width="6.2" height="12.2" fill="#26a69a"/>
<rect x="726" y="294.8" width="2" height="173" fill="#26a69a"/>
<rect x="722.2" y="346.6" width="9.6" height="80.8" fill="#9598a1"/><rect x="723.9" y="348.3" width="6.2" height="77.4" fill="#26a69a"/>
<rect x="738.3" y="308.2" width="2" height="59.8" fill="#ef5350"/>
<rect x="734.5" y="347" width="9.6" height="2" fill="#ef5350"/>
<rect x="750.7" y="243.8" width="2" height="141.2" fill="#26a69a"/>
<rect x="746.9" y="297.3" width="9.6" height="51.8" fill="#9598a1"/><rect x="748.6" y="299" width="6.2" height="48.4" fill="#26a69a"/>
<rect x="763.1" y="278.9" width="2" height="149.7" fill="#ef5350"/>
<rect x="759.3" y="297.3" width="9.6" height="129.6" fill="#ef5350"/>
<rect x="775.5" y="398.3" width="2" height="81.5" fill="#ef5350"/>
<rect x="771.7" y="426.1" width="9.6" height="25.8" fill="#ef5350"/>
<rect x="787.8" y="419" width="2" height="45.7" fill="#26a69a"/>
<rect x="784" y="444.5" width="9.6" height="6.9" fill="#9598a1"/><rect x="785.7" y="446.2" width="6.2" height="3.5" fill="#26a69a"/>
<rect x="800.2" y="438.2" width="2" height="164.4" fill="#ef5350"/>
<rect x="796.4" y="443.8" width="9.6" height="30.8" fill="#ef5350"/>
<rect x="812.6" y="364.7" width="2" height="111.8" fill="#26a69a"/>
<rect x="808.8" y="443.3" width="9.6" height="30.8" fill="#9598a1"/><rect x="810.5" y="445" width="6.2" height="27.4" fill="#26a69a"/>
<rect x="824.9" y="437.5" width="2" height="43.9" fill="#ef5350"/>
<rect x="821.1" y="443.3" width="9.6" height="22.5" fill="#ef5350"/>
<rect x="837.3" y="447" width="2" height="64.7" fill="#ef5350"/>
<rect x="833.5" y="466" width="9.6" height="17.1" fill="#ef5350"/>
<rect x="849.7" y="463.2" width="2" height="64.4" fill="#26a69a"/>
<rect x="845.9" y="469.8" width="9.6" height="11.7" fill="#9598a1"/><rect x="847.6" y="471.5" width="6.2" height="8.3" fill="#26a69a"/>
<rect x="862.1" y="458.2" width="2" height="88.3" fill="#ef5350"/>
<rect x="858.3" y="469" width="9.6" height="50.2" fill="#ef5350"/>
<rect x="874.4" y="516.2" width="2" height="63.6" fill="#ef5350"/>
<rect x="870.6" y="518" width="9.6" height="51.7" fill="#ef5350"/>
<rect x="886.8" y="522.3" width="2" height="139.6" fill="#ef5350"/>
<rect x="883" y="570.5" width="9.6" height="11.9" fill="#ef5350"/>
<rect x="899.2" y="531.9" width="2" height="85.8" fill="#26a69a"/>
<rect x="895.4" y="533.6" width="9.6" height="48.3" fill="#9598a1"/><rect x="897.1" y="535.3" width="6.2" height="44.9" fill="#26a69a"/>
<rect x="911.5" y="502.1" width="2" height="47.9" fill="#26a69a"/>
<rect x="907.7" y="519.7" width="9.6" height="13.4" fill="#9598a1"/><rect x="909.4" y="521.4" width="6.2" height="10" fill="#26a69a"/>
<rect x="923.9" y="498.3" width="2" height="65.6" fill="#26a69a"/>
<rect x="920.1" y="508.6" width="9.6" height="11.4" fill="#9598a1"/><rect x="921.8" y="510.3" width="6.2" height="8" fill="#26a69a"/>
<rect x="936.3" y="495.3" width="2" height="81.5" fill="#ef5350"/>
<rect x="932.5" y="508.4" width="9.6" height="53" fill="#ef5350"/>
<rect x="948.7" y="496" width="2" height="95.7" fill="#26a69a"/>
<rect x="944.9" y="534.9" width="9.6" height="26" fill="#9598a1"/><rect x="946.6" y="536.6" width="6.2" height="22.6" fill="#26a69a"/>
<rect x="961" y="498.3" width="2" height="50.5" fill="#26a69a"/>
<rect x="957.2" y="509.1" width="9.6" height="24" fill="#9598a1"/><rect x="958.9" y="510.8" width="6.2" height="20.6" fill="#26a69a"/>
<rect x="973.4" y="462.7" width="2" height="81.3" fill="#ef5350"/>
<rect x="969.6" y="509.9" width="9.6" height="23.2" fill="#ef5350"/>
<rect x="985.8" y="485.2" width="2" height="64.8" fill="#26a69a"/>
<rect x="982" y="491" width="9.6" height="42.1" fill="#9598a1"/><rect x="983.7" y="492.7" width="6.2" height="38.7" fill="#26a69a"/>
<rect x="998.1" y="460.2" width="2" height="56.5" fill="#ef5350"/>
<rect x="994.3" y="488.9" width="9.6" height="14.4" fill="#ef5350"/>
<rect x="1010.5" y="493.3" width="2" height="63.2" fill="#ef5350"/>
<rect x="1006.7" y="503.4" width="9.6" height="40.9" fill="#ef5350"/>
<rect x="1022.9" y="514" width="2" height="64.4" fill="#26a69a"/>
<rect x="1019.1" y="524.6" width="9.6" height="18.5" fill="#9598a1"/><rect x="1020.8" y="526.3" width="6.2" height="15.1" fill="#26a69a"/>
<rect x="1035.3" y="515.3" width="2" height="40.4" fill="#ef5350"/>
<rect x="1031.5" y="524.6" width="9.6" height="2" fill="#ef5350"/>
<rect x="1047.6" y="517.1" width="2" height="69.4" fill="#ef5350"/>
<rect x="1043.8" y="525.4" width="9.6" height="46.2" fill="#ef5350"/>
<rect x="1060" y="538" width="2" height="36.6" fill="#26a69a"/>
<rect x="1056.2" y="555.7" width="9.6" height="15.2" fill="#9598a1"/><rect x="1057.9" y="557.4" width="6.2" height="11.8" fill="#26a69a"/>
<rect x="1072.4" y="379.7" width="2" height="181.1" fill="#26a69a"/>
<rect x="1068.6" y="383.5" width="9.6" height="171.4" fill="#9598a1"/><rect x="1070.3" y="385.2" width="6.2" height="168" fill="#26a69a"/>
<rect x="1084.7" y="371.9" width="2" height="67.6" fill="#ef5350"/>
<rect x="1080.9" y="383.2" width="9.6" height="45" fill="#ef5350"/>
<rect x="1097.1" y="423.1" width="2" height="86.4" fill="#ef5350"/>
<rect x="1093.3" y="427.4" width="9.6" height="75.3" fill="#ef5350"/>
<rect x="1109.5" y="472.4" width="2" height="68.9" fill="#ef5350"/>
<rect x="1105.7" y="502.7" width="9.6" height="20.9" fill="#ef5350"/>
<rect x="1121.8" y="515.3" width="2" height="419" fill="#ef5350"/>
<rect x="1118" y="524.1" width="9.6" height="192.2" fill="#ef5350"/>
<rect x="1134.2" y="701.4" width="2" height="302.1" fill="#ef5350"/>
<rect x="1130.4" y="715.4" width="9.6" height="244.8" fill="#ef5350"/>
<rect x="1146.6" y="729.4" width="2" height="243.2" fill="#26a69a"/>
<rect x="1142.8" y="759.9" width="9.6" height="201.8" fill="#9598a1"/><rect x="1144.5" y="761.6" width="6.2" height="198.4" fill="#26a69a"/>
<rect x="1159" y="744.3" width="2" height="105" fill="#ef5350"/>
<rect x="1155.2" y="758.3" width="9.6" height="35.8" fill="#ef5350"/>
<rect x="1171.3" y="792.6" width="2" height="78.8" fill="#ef5350"/>
<rect x="1167.5" y="794.2" width="9.6" height="65.4" fill="#ef5350"/>
<rect x="1183.7" y="840.2" width="2" height="119.9" fill="#ef5350"/>
<rect x="1179.9" y="860.2" width="9.6" height="73.2" fill="#ef5350"/>
<rect x="1196.1" y="804.1" width="2" height="192.5" fill="#26a69a"/>
<rect x="1192.3" y="813.8" width="9.6" height="120.5" fill="#9598a1"/><rect x="1194" y="815.5" width="6.2" height="117.1" fill="#26a69a"/>
<rect x="1208.4" y="745.3" width="2" height="102.5" fill="#26a69a"/>
<rect x="1204.6" y="777" width="9.6" height="35.8" fill="#9598a1"/><rect x="1206.3" y="778.7" width="6.2" height="32.4" fill="#26a69a"/>
<rect x="1220.8" y="765.2" width="2" height="98.4" fill="#ef5350"/>
<rect x="1217" y="776.1" width="9.6" height="43.6" fill="#ef5350"/>
<rect x="1233.2" y="780.1" width="2" height="58.2" fill="#26a69a"/>
<rect x="1229.4" y="797.9" width="9.6" height="21.2" fill="#9598a1"/><rect x="1231.1" y="799.6" width="6.2" height="17.8" fill="#26a69a"/>
<rect x="1245.6" y="780.1" width="2" height="43.6" fill="#26a69a"/>
<rect x="1241.8" y="795.4" width="9.6" height="2.8" fill="#9598a1"/>
<rect x="1257.9" y="777" width="2" height="41.4" fill="#26a69a"/>
<rect x="1254.1" y="791.7" width="9.6" height="2.8" fill="#9598a1"/>
<rect x="1270.3" y="749" width="2" height="125.5" fill="#ef5350"/>
<rect x="1266.5" y="791" width="9.6" height="76.3" fill="#ef5350"/>
<rect x="1282.7" y="842.4" width="2" height="73.2" fill="#26a69a"/>
<rect x="1278.9" y="858" width="9.6" height="8.4" fill="#9598a1"/><rect x="1280.6" y="859.7" width="6.2" height="5" fill="#26a69a"/>
<rect x="1295" y="810.4" width="2" height="89.1" fill="#26a69a"/>
<rect x="1291.2" y="819.7" width="9.6" height="35.2" fill="#9598a1"/><rect x="1292.9" y="821.4" width="6.2" height="31.8" fill="#26a69a"/>
<rect x="1307.4" y="795.1" width="2" height="48.9" fill="#26a69a"/>
<rect x="1303.6" y="799.5" width="9.6" height="18.7" fill="#9598a1"/><rect x="1305.3" y="801.2" width="6.2" height="15.3" fill="#26a69a"/>
<rect x="1319.8" y="721" width="2" height="102.8" fill="#26a69a"/>
<rect x="1316" y="732.5" width="9.6" height="66.3" fill="#9598a1"/><rect x="1317.7" y="734.2" width="6.2" height="62.9" fill="#26a69a"/>
<rect x="1332.2" y="674.3" width="2" height="98.7" fill="#26a69a"/>
<rect x="1328.4" y="712.6" width="9.6" height="19.3" fill="#9598a1"/><rect x="1330.1" y="714.3" width="6.2" height="15.9" fill="#26a69a"/>
<rect x="1344.5" y="688.9" width="2" height="68.8" fill="#ef5350"/>
<rect x="1340.7" y="712.3" width="9.6" height="38.3" fill="#ef5350"/>
<rect x="1356.9" y="706" width="2" height="48.6" fill="#26a69a"/>
<rect x="1353.1" y="749.6" width="9.6" height="2" fill="#9598a1"/>
<rect x="1369.3" y="740.3" width="2" height="84.4" fill="#ef5350"/>
<rect x="1365.5" y="750.6" width="9.6" height="22.7" fill="#ef5350"/>
<rect x="1381.6" y="723.2" width="2" height="69.4" fill="#26a69a"/>
<rect x="1377.8" y="743.7" width="9.6" height="30.2" fill="#9598a1"/><rect x="1379.5" y="745.4" width="6.2" height="26.8" fill="#26a69a"/>
<rect x="1394" y="698.2" width="2" height="61" fill="#26a69a"/>
<rect x="1390.2" y="710.7" width="9.6" height="32.1" fill="#9598a1"/><rect x="1391.9" y="712.4" width="6.2" height="28.7" fill="#26a69a"/>
<rect x="1406.4" y="706" width="2" height="48.6" fill="#ef5350"/>
<rect x="1402.6" y="710.1" width="9.6" height="38" fill="#ef5350"/>
<rect x="1418.8" y="744.3" width="2" height="44.5" fill="#ef5350"/>
<rect x="1415" y="747.4" width="9.6" height="2" fill="#ef5350"/>
<rect x="1431.1" y="745.9" width="2" height="37.4" fill="#ef5350"/>
<rect x="1427.3" y="750.6" width="9.6" height="29.6" fill="#ef5350"/>
<rect x="1443.5" y="759" width="2" height="21.8" fill="#26a69a"/>
<rect x="1439.7" y="770.8" width="9.6" height="6.2" fill="#9598a1"/><rect x="1441.4" y="772.5" width="6.2" height="2.8" fill="#26a69a"/>
<rect x="1455.9" y="749" width="2" height="50.8" fill="#ef5350"/>
<rect x="1452.1" y="770.2" width="9.6" height="2" fill="#ef5350"/>
<rect x="1468.2" y="760.8" width="2" height="38.9" fill="#26a69a"/>
<rect x="1464.4" y="765.5" width="9.6" height="5.3" fill="#9598a1"/><rect x="1466.1" y="767.2" width="6.2" height="1.9" fill="#26a69a"/>
<rect x="1480.6" y="762.1" width="2" height="59.5" fill="#ef5350"/>
<rect x="1476.8" y="765.2" width="9.6" height="26.5" fill="#ef5350"/>
<rect x="1493" y="749" width="2" height="43.6" fill="#26a69a"/>
<rect x="1489.2" y="755.9" width="9.6" height="35.8" fill="#9598a1"/><rect x="1490.9" y="757.6" width="6.2" height="32.4" fill="#26a69a"/>
<rect x="1505.3" y="752.1" width="2" height="35.8" fill="#ef5350"/>
<rect x="1501.5" y="755.2" width="9.6" height="18.1" fill="#ef5350"/>
<rect x="1517.7" y="771.4" width="2" height="11.2" fill="#ef5350"/>
<rect x="1513.9" y="772.4" width="9.6" height="9.3" fill="#ef5350"/>
<rect x="1530.1" y="774.5" width="2" height="34.6" fill="#ef5350"/>
<rect x="1526.3" y="780.1" width="9.6" height="19.3" fill="#ef5350"/>
<rect x="1542.5" y="770.2" width="2" height="61.4" fill="#26a69a"/>
<rect x="1538.7" y="777.7" width="9.6" height="22.4" fill="#9598a1"/><rect x="1540.4" y="779.4" width="6.2" height="19" fill="#26a69a"/>
<rect x="1554.8" y="746.8" width="2" height="60.4" fill="#26a69a"/>
<rect x="1551" y="753.7" width="9.6" height="23.4" fill="#9598a1"/><rect x="1552.7" y="755.4" width="6.2" height="20" fill="#26a69a"/>
<rect x="1567.2" y="750.6" width="2" height="60.1" fill="#ef5350"/>
<rect x="1563.4" y="753" width="9.6" height="31.1" fill="#ef5350"/>
<rect x="1579.6" y="780.1" width="2" height="46.7" fill="#ef5350"/>
<rect x="1575.8" y="783.9" width="9.6" height="24.9" fill="#ef5350"/>
<rect x="1591.9" y="802.9" width="2" height="116.8" fill="#ef5350"/>
<rect x="1588.1" y="809.1" width="9.6" height="89.4" fill="#ef5350"/>
<rect x="1604.3" y="878.2" width="2" height="32.7" fill="#26a69a"/>
<rect x="1600.5" y="886.7" width="9.6" height="11.2" fill="#9598a1"/><rect x="1602.2" y="888.4" width="6.2" height="7.8" fill="#26a69a"/>
<rect x="1616.7" y="883.8" width="2" height="25.5" fill="#ef5350"/>
<rect x="1612.9" y="886" width="9.6" height="17.1" fill="#ef5350"/>
<rect x="1629.1" y="892.5" width="2" height="67" fill="#ef5350"/>
<rect x="1625.3" y="901.8" width="9.6" height="37.4" fill="#ef5350"/>
<rect x="1641.4" y="890" width="2" height="57.6" fill="#26a69a"/>
<rect x="1637.6" y="907.1" width="9.6" height="32.1" fill="#9598a1"/><rect x="1639.3" y="908.8" width="6.2" height="28.7" fill="#26a69a"/>
<rect x="1653.8" y="901.5" width="2" height="42" fill="#ef5350"/>
<rect x="1650" y="907.1" width="9.6" height="12.5" fill="#ef5350"/>
<rect x="1666.2" y="901.8" width="2" height="28.7" fill="#26a69a"/>
<rect x="1662.4" y="904.6" width="9.6" height="14.9" fill="#9598a1"/><rect x="1664.1" y="906.3" width="6.2" height="11.5" fill="#26a69a"/>
<rect x="1678.5" y="885.9" width="2" height="25.8" fill="#26a69a"/>
<rect x="1674.7" y="887.2" width="9.6" height="18.4" fill="#9598a1"/><rect x="1676.4" y="888.9" width="6.2" height="15" fill="#26a69a"/>
<rect x="1690.9" y="886.9" width="2" height="11.8" fill="#ef5350"/>
<rect x="1687.1" y="887.8" width="9.6" height="9" fill="#ef5350"/>
<rect x="1703.3" y="894.6" width="2" height="27.1" fill="#ef5350"/>
<rect x="1699.5" y="895.6" width="9.6" height="20.9" fill="#ef5350"/>
<rect x="1715.7" y="836.1" width="2" height="80.3" fill="#26a69a"/>
<rect x="1711.9" y="850.7" width="9.6" height="65.7" fill="#9598a1"/><rect x="1713.6" y="852.4" width="6.2" height="62.3" fill="#26a69a"/>
<rect x="1728" y="825.2" width="2" height="47.6" fill="#26a69a"/>
<rect x="1724.2" y="845.4" width="9.6" height="4.7" fill="#9598a1"/><rect x="1725.9" y="847.1" width="6.2" height="1.3" fill="#26a69a"/>
<rect x="1740.4" y="841.1" width="2" height="45.8" fill="#ef5350"/>
<rect x="1736.6" y="844.8" width="9.6" height="38.9" fill="#ef5350"/>
<rect x="1752.8" y="877.5" width="2" height="69.4" fill="#ef5350"/>
<rect x="1749" y="883.1" width="9.6" height="45.8" fill="#ef5350"/>
<rect x="1765.1" y="916.4" width="2" height="40.5" fill="#26a69a"/>
<rect x="1761.3" y="919.6" width="9.6" height="8.7" fill="#9598a1"/><rect x="1763" y="921.3" width="6.2" height="5.3" fill="#26a69a"/>
<rect x="1777.5" y="918.9" width="2" height="20.9" fill="#ef5350"/>
<rect x="1773.7" y="918.9" width="9.6" height="20.9" fill="#ef5350"/>
<rect x="1789.9" y="936.7" width="2" height="14" fill="#26a69a"/>
<rect x="1786.1" y="938.9" width="9.6" height="2" fill="#9598a1"/>
<rect x="1802.3" y="883.7" width="2" height="184.7" fill="#26a69a"/>
<rect x="1798.5" y="909.6" width="9.6" height="29.6" fill="#9598a1"/><rect x="1800.2" y="911.3" width="6.2" height="26.2" fill="#26a69a"/>
<rect x="1814.6" y="896.2" width="2" height="36.4" fill="#ef5350"/>
<rect x="1810.8" y="909.3" width="9.6" height="14.9" fill="#ef5350"/>
<rect x="1827" y="895.3" width="2" height="43.6" fill="#26a69a"/>
<rect x="1823.2" y="911.1" width="9.6" height="13.1" fill="#9598a1"/><rect x="1824.9" y="912.8" width="6.2" height="9.7" fill="#26a69a"/>
<rect x="1839.4" y="907.1" width="2" height="48.9" fill="#ef5350"/>
<rect x="1835.6" y="910.8" width="9.6" height="33" fill="#ef5350"/>
<rect x="1851.7" y="914.9" width="2" height="49.8" fill="#26a69a"/>
<rect x="1847.9" y="921.4" width="9.6" height="20.9" fill="#9598a1"/><rect x="1849.6" y="923.1" width="6.2" height="17.5" fill="#26a69a"/>
<rect x="1864.1" y="916.4" width="2" height="13.4" fill="#ef5350"/>
<rect x="1860.3" y="920.2" width="9.6" height="2" fill="#ef5350"/>
<rect x="1876.5" y="914.3" width="2" height="35.8" fill="#26a69a"/>
<rect x="1872.7" y="918.3" width="9.6" height="2" fill="#9598a1"/>
<rect x="1888.9" y="876.9" width="2" height="45.8" fill="#26a69a"/>
<rect x="1885.1" y="906.2" width="9.6" height="10.9" fill="#9598a1"/><rect x="1886.8" y="907.9" width="6.2" height="7.5" fill="#26a69a"/>
<rect x="1901.2" y="887.8" width="2" height="35.8" fill="#26a69a"/>
<rect x="1897.4" y="899.3" width="9.6" height="6.2" fill="#9598a1"/><rect x="1899.1" y="901" width="6.2" height="2.8" fill="#26a69a"/>
<rect x="1913.6" y="809" width="2" height="100.6" fill="#26a69a"/>
<rect x="1909.8" y="827.1" width="9.6" height="72.3" fill="#9598a1"/><rect x="1911.5" y="828.8" width="6.2" height="68.9" fill="#26a69a"/>
<rect x="1926" y="798.1" width="2" height="75.7" fill="#26a69a"/>
<rect x="1922.2" y="819.3" width="9.6" height="7.5" fill="#9598a1"/><rect x="1923.9" y="821" width="6.2" height="4.1" fill="#26a69a"/>
<rect x="1938.3" y="772.3" width="2" height="68.8" fill="#26a69a"/>
<rect x="1934.5" y="783.5" width="9.6" height="34.9" fill="#9598a1"/><rect x="1936.2" y="785.2" width="6.2" height="31.5" fill="#26a69a"/>
<rect x="1950.7" y="706.9" width="2" height="102.1" fill="#26a69a"/>
<rect x="1946.9" y="752.3" width="9.6" height="32.4" fill="#9598a1"/><rect x="1948.6" y="754" width="6.2" height="29" fill="#26a69a"/>
<rect x="1963.1" y="746.7" width="2" height="56.1" fill="#ef5350"/>
<rect x="1959.3" y="751.4" width="9.6" height="35.8" fill="#ef5350"/>
<rect x="1975.4" y="714.6" width="2" height="95.9" fill="#26a69a"/>
<rect x="1971.6" y="784.1" width="9.6" height="3.1" fill="#9598a1"/>
<rect x="1987.8" y="740.5" width="2" height="63.2" fill="#26a69a"/>
<rect x="1984" y="780.3" width="9.6" height="3.7" fill="#9598a1"/>
<rect x="2000.2" y="749.8" width="2" height="90.3" fill="#ef5350"/>
<rect x="1996.4" y="777.9" width="9.6" height="31.1" fill="#ef5350"/>
<rect x="2012.6" y="748.2" width="2" height="65.2" fill="#26a69a"/>
<rect x="2008.8" y="759.6" width="9.6" height="46.2" fill="#9598a1"/><rect x="2010.5" y="761.3" width="6.2" height="42.8" fill="#26a69a"/>
<rect x="2024.9" y="690.2" width="2" height="91.2" fill="#26a69a"/>
<rect x="2021.1" y="693.9" width="9.6" height="65.2" fill="#9598a1"/><rect x="2022.8" y="695.6" width="6.2" height="61.8" fill="#26a69a"/>
<rect x="2037.3" y="682.1" width="2" height="58.6" fill="#ef5350"/>
<rect x="2033.5" y="693.4" width="9.6" height="31.6" fill="#ef5350"/>
<rect x="2049.7" y="696" width="2" height="52.5" fill="#ef5350"/>
<rect x="2045.9" y="725" width="9.6" height="10.6" fill="#ef5350"/>
<rect x="2062" y="627.3" width="2" height="109.1" fill="#26a69a"/>
<rect x="2058.2" y="659.8" width="9.6" height="74.5" fill="#9598a1"/><rect x="2059.9" y="661.5" width="6.2" height="71.1" fill="#26a69a"/>
<rect x="2074.4" y="633.3" width="2" height="91.2" fill="#ef5350"/>
<rect x="2070.6" y="659.3" width="9.6" height="51" fill="#ef5350"/>
<rect x="2086.8" y="655.1" width="2" height="89.6" fill="#26a69a"/>
<rect x="2083" y="680.8" width="9.6" height="31.1" fill="#9598a1"/><rect x="2084.7" y="682.5" width="6.2" height="27.7" fill="#26a69a"/>
<rect x="2099.2" y="676.3" width="2" height="39.4" fill="#ef5350"/>
<rect x="2095.4" y="680.3" width="9.6" height="25" fill="#ef5350"/>
<rect x="2111.5" y="690.2" width="2" height="48.2" fill="#26a69a"/>
<rect x="2107.7" y="694.7" width="9.6" height="10.1" fill="#9598a1"/><rect x="2109.4" y="696.4" width="6.2" height="6.7" fill="#26a69a"/>
<rect x="2123.9" y="680.3" width="2" height="36.4" fill="#ef5350"/>
<rect x="2120.1" y="694.2" width="9.6" height="16.2" fill="#ef5350"/>
<rect x="2136.3" y="678.3" width="2" height="35.4" fill="#26a69a"/>
<rect x="2132.5" y="692.9" width="9.6" height="17.4" fill="#9598a1"/><rect x="2134.2" y="694.6" width="6.2" height="14" fill="#26a69a"/>
<rect x="2148.6" y="663.1" width="2" height="118.2" fill="#ef5350"/>
<rect x="2144.8" y="692.4" width="9.6" height="66.2" fill="#ef5350"/>
<rect x="2161" y="699.2" width="2" height="75" fill="#26a69a"/>
<rect x="2157.2" y="717.9" width="9.6" height="39.1" fill="#9598a1"/><rect x="2158.9" y="719.6" width="6.2" height="35.7" fill="#26a69a"/>
<rect x="2173.4" y="685.4" width="2" height="61.1" fill="#26a69a"/>
<rect x="2169.6" y="692.9" width="9.6" height="24" fill="#9598a1"/><rect x="2171.3" y="694.6" width="6.2" height="20.6" fill="#26a69a"/>
<rect x="2185.8" y="673.2" width="2" height="37.4" fill="#ef5350"/>
<rect x="2182" y="691.4" width="9.6" height="12.9" fill="#ef5350"/>
<rect x="2198.1" y="691.4" width="2" height="24.2" fill="#26a69a"/>
<rect x="2194.3" y="697.7" width="9.6" height="6.3" fill="#9598a1"/><rect x="2196" y="699.4" width="6.2" height="2.9" fill="#26a69a"/>
<rect x="2210.5" y="668.2" width="2" height="42.4" fill="#ef5350"/>
<rect x="2206.7" y="698.5" width="9.6" height="2" fill="#ef5350"/>
<rect x="2222.9" y="696.5" width="2" height="57.1" fill="#ef5350"/>
<rect x="2219.1" y="702.3" width="9.6" height="40.4" fill="#ef5350"/>
<rect x="2235.2" y="725.5" width="2" height="40.4" fill="#ef5350"/>
<rect x="2231.4" y="741.4" width="9.6" height="22.7" fill="#ef5350"/>
<rect x="2247.6" y="720.5" width="2" height="48.2" fill="#26a69a"/>
<rect x="2243.8" y="724.5" width="9.6" height="39.6" fill="#9598a1"/><rect x="2245.5" y="726.2" width="6.2" height="36.2" fill="#26a69a"/>
<rect x="2260" y="717.4" width="2" height="39.1" fill="#ef5350"/>
<rect x="2256.2" y="724.2" width="9.6" height="20.2" fill="#ef5350"/>
<rect x="2272.4" y="707.3" width="2" height="117.4" fill="#ef5350"/>
<rect x="2268.6" y="745.2" width="9.6" height="51" fill="#ef5350"/>
<rect x="2284.7" y="776.3" width="2" height="37.1" fill="#26a69a"/>
<rect x="2280.9" y="796" width="9.6" height="2" fill="#9598a1"/>
<rect x="2297.1" y="788.1" width="2" height="13.4" fill="#26a69a"/>
<rect x="2293.3" y="791.9" width="9.6" height="5.6" fill="#9598a1"/><rect x="2295" y="793.6" width="6.2" height="2.2" fill="#26a69a"/>
<rect x="2309.5" y="785.6" width="2" height="42.9" fill="#ef5350"/>
<rect x="2305.7" y="791.4" width="9.6" height="29" fill="#ef5350"/>
<rect x="2321.8" y="808.3" width="2" height="51.3" fill="#ef5350"/>
<rect x="2318" y="820.2" width="9.6" height="14.1" fill="#ef5350"/>
<rect x="2334.2" y="789.4" width="2" height="63.1" fill="#26a69a"/>
<rect x="2330.4" y="795.7" width="9.6" height="38.4" fill="#9598a1"/><rect x="2332.1" y="797.4" width="6.2" height="35" fill="#26a69a"/>
<rect x="2346.6" y="727" width="2" height="86.4" fill="#26a69a"/>
<rect x="2342.8" y="732.6" width="9.6" height="63.9" fill="#9598a1"/><rect x="2344.5" y="734.3" width="6.2" height="60.5" fill="#26a69a"/>
<rect x="2358.9" y="720.5" width="2" height="70.2" fill="#ef5350"/>
<rect x="2355.1" y="731.3" width="9.6" height="57.3" fill="#ef5350"/>
<rect x="2371.3" y="734.3" width="2" height="65.2" fill="#26a69a"/>
<rect x="2367.5" y="753.5" width="9.6" height="37.1" fill="#9598a1"/><rect x="2369.2" y="755.2" width="6.2" height="33.7" fill="#26a69a"/>
<rect x="2383.7" y="743.2" width="2" height="21" fill="#ef5350"/>
<rect x="2379.9" y="754" width="9.6" height="2" fill="#ef5350"/>
<rect x="2396.1" y="741.4" width="2" height="43.4" fill="#ef5350"/>
<rect x="2392.3" y="755.3" width="9.6" height="25.3" fill="#ef5350"/>
<rect x="2408.4" y="707.3" width="2" height="99.2" fill="#26a69a"/>
<rect x="2404.6" y="741.9" width="9.6" height="38.1" fill="#9598a1"/><rect x="2406.3" y="743.6" width="6.2" height="34.7" fill="#26a69a"/>
<rect x="2420.8" y="730.3" width="2" height="47.2" fill="#ef5350"/>
<rect x="2417" y="742.7" width="9.6" height="22" fill="#ef5350"/>
<rect x="2433.2" y="744.4" width="2" height="46.2" fill="#26a69a"/>
<rect x="2429.4" y="752.8" width="9.6" height="9.6" fill="#9598a1"/><rect x="2431.1" y="754.5" width="6.2" height="6.2" fill="#26a69a"/>
<rect x="2445.5" y="743.2" width="2" height="39.4" fill="#ef5350"/>
<rect x="2441.7" y="752.3" width="9.6" height="23.2" fill="#ef5350"/>
<rect x="2457.9" y="766.7" width="2" height="60.6" fill="#ef5350"/>
<rect x="2454.1" y="775.5" width="9.6" height="33.3" fill="#ef5350"/>
<rect x="2470.3" y="804" width="2" height="32.6" fill="#ef5350"/>
<rect x="2466.5" y="808.3" width="9.6" height="2" fill="#ef5350"/>
<rect x="2482.7" y="799.5" width="2" height="21" fill="#ef5350"/>
<rect x="2478.9" y="809.1" width="9.6" height="2" fill="#ef5350"/>
<rect x="2495" y="802" width="2" height="30.3" fill="#26a69a"/>
<rect x="2491.2" y="808.3" width="9.6" height="2" fill="#9598a1"/>
<rect x="2507.4" y="794.2" width="2" height="34.6" fill="#ef5350"/>
<rect x="2503.6" y="808.1" width="9.6" height="7.6" fill="#ef5350"/>
<rect x="2519.8" y="784.1" width="2" height="41.2" fill="#26a69a"/>
<rect x="2516" y="791" width="9.6" height="24" fill="#9598a1"/><rect x="2517.7" y="792.7" width="6.2" height="20.6" fill="#26a69a"/>
<rect x="2532.1" y="785.4" width="2" height="37.1" fill="#ef5350"/>
<rect x="2528.3" y="790.5" width="9.6" height="22" fill="#ef5350"/>
<rect x="2544.5" y="800.6" width="2" height="84.1" fill="#26a69a"/>
<rect x="2540.7" y="810.7" width="9.6" height="2" fill="#9598a1"/>
<rect x="2556.9" y="797.5" width="2" height="44.2" fill="#ef5350"/>
<rect x="2553.1" y="812.4" width="9.6" height="10.9" fill="#ef5350"/>
<rect x="2569.3" y="810.7" width="2" height="38.6" fill="#ef5350"/>
<rect x="2565.5" y="824.5" width="9.6" height="22.7" fill="#ef5350"/>
<rect x="2581.6" y="822" width="2" height="48.7" fill="#26a69a"/>
<rect x="2577.8" y="836.7" width="9.6" height="10.6" fill="#9598a1"/><rect x="2579.5" y="838.4" width="6.2" height="7.2" fill="#26a69a"/>
<rect x="2594" y="788.4" width="2" height="57.1" fill="#26a69a"/>
<rect x="2590.2" y="802.3" width="9.6" height="33.6" fill="#9598a1"/><rect x="2591.9" y="804" width="6.2" height="30.2" fill="#26a69a"/>
<rect x="2606.4" y="732.4" width="2" height="95.2" fill="#26a69a"/>
<rect x="2602.6" y="772.8" width="9.6" height="29" fill="#9598a1"/><rect x="2604.3" y="774.5" width="6.2" height="25.6" fill="#26a69a"/>
<rect x="2618.7" y="746.3" width="2" height="107.3" fill="#ef5350"/>
<rect x="2614.9" y="772.3" width="9.6" height="63.1" fill="#ef5350"/>
<rect x="2631.1" y="819.5" width="2" height="56.8" fill="#26a69a"/>
<rect x="2627.3" y="832.1" width="9.6" height="3" fill="#9598a1"/>
<rect x="2643.5" y="808.9" width="2" height="48.5" fill="#ef5350"/>
<rect x="2639.7" y="831.6" width="9.6" height="9.8" fill="#ef5350"/>
<rect x="2655.9" y="809.4" width="2" height="79" fill="#26a69a"/>
<rect x="2652.1" y="817.7" width="9.6" height="24.5" fill="#9598a1"/><rect x="2653.8" y="819.4" width="6.2" height="21.1" fill="#26a69a"/>
<rect x="2668.2" y="794.2" width="2" height="80.1" fill="#ef5350"/>
<rect x="2664.4" y="813.2" width="9.6" height="10.1" fill="#ef5350"/>
<rect x="2680.6" y="774" width="2" height="73.2" fill="#ef5350"/>
<rect x="2676.8" y="822" width="9.6" height="2" fill="#ef5350"/>
<rect x="2693" y="811.4" width="2" height="69.2" fill="#ef5350"/>
<rect x="2689.2" y="823.3" width="9.6" height="44.2" fill="#ef5350"/>
<rect x="2705.3" y="840.5" width="2" height="35.1" fill="#26a69a"/>
<rect x="2701.5" y="851.6" width="9.6" height="17.7" fill="#9598a1"/><rect x="2703.2" y="853.3" width="6.2" height="14.3" fill="#26a69a"/>
<rect x="2717.7" y="792.5" width="2" height="66.9" fill="#26a69a"/>
<rect x="2713.9" y="800.6" width="9.6" height="50.5" fill="#9598a1"/><rect x="2715.6" y="802.3" width="6.2" height="47.1" fill="#26a69a"/>
<rect x="2730.1" y="767.2" width="2" height="69.2" fill="#ef5350"/>
<rect x="2726.3" y="800.6" width="9.6" height="20.2" fill="#ef5350"/>
<rect x="2742.4" y="732.4" width="2" height="88.4" fill="#26a69a"/>
<rect x="2738.6" y="779.6" width="9.6" height="39.9" fill="#9598a1"/><rect x="2740.3" y="781.3" width="6.2" height="36.5" fill="#26a69a"/>
<rect x="2754.8" y="759.4" width="2" height="67.2" fill="#ef5350"/>
<rect x="2751" y="778.3" width="9.6" height="42.4" fill="#ef5350"/>
<rect x="2767.2" y="425.3" width="2" height="397.2" fill="#26a69a"/>
<rect x="2763.4" y="501.5" width="9.6" height="319.3" fill="#9598a1"/><rect x="2765.1" y="503.2" width="6.2" height="315.9" fill="#26a69a"/>
<rect x="2779.6" y="484.1" width="2" height="218.5" fill="#ef5350"/>
<rect x="2775.8" y="501" width="9.6" height="161.6" fill="#ef5350"/>
<rect x="2791.9" y="549" width="2" height="144.7" fill="#26a69a"/>
<rect x="2788.1" y="588.6" width="9.6" height="74.5" fill="#9598a1"/><rect x="2789.8" y="590.3" width="6.2" height="71.1" fill="#26a69a"/>
<rect x="2804.3" y="587.4" width="2" height="99.2" fill="#ef5350"/>
<rect x="2800.5" y="587.4" width="9.6" height="62.1" fill="#ef5350"/>
<rect x="2816.7" y="521.2" width="2" height="139.7" fill="#26a69a"/>
<rect x="2812.9" y="592.4" width="9.6" height="57.1" fill="#9598a1"/><rect x="2814.6" y="594.1" width="6.2" height="53.7" fill="#26a69a"/>
<rect x="2829" y="525" width="2" height="75.8" fill="#26a69a"/>
<rect x="2825.2" y="575.5" width="9.6" height="17.7" fill="#9598a1"/><rect x="2826.9" y="577.2" width="6.2" height="14.3" fill="#26a69a"/>
<rect x="2841.4" y="442.2" width="2" height="151.7" fill="#26a69a"/>
<rect x="2837.6" y="474.5" width="9.6" height="102.8" fill="#9598a1"/><rect x="2839.3" y="476.2" width="6.2" height="99.4" fill="#26a69a"/>
<rect x="2853.8" y="425.3" width="2" height="89.6" fill="#26a69a"/>
<rect x="2850" y="442.4" width="9.6" height="32.1" fill="#9598a1"/><rect x="2851.7" y="444.1" width="6.2" height="28.7" fill="#26a69a"/>
</g>
<line x1="25" y1="441.8" x2="3318" y2="441.8" stroke="#26a69a" stroke-width="2.2" stroke-dasharray="2.2 4.1"/>
<g clip-path="url(#cr)">
<line x1="25" y1="1353.3" x2="3441" y2="1353.3" stroke="#6c6e7b" stroke-width="2" stroke-dasharray="10 12"/>
<line x1="25" y1="1416" x2="3441" y2="1416" stroke="#9a9ca8" stroke-width="2" stroke-dasharray="10 12"/>
<line x1="25" y1="1478.7" x2="3441" y2="1478.7" stroke="#6c6e7b" stroke-width="2" stroke-dasharray="10 12"/>
<polyline points="21.4,1395 58.5,1397.6 70.8,1399.1 95.6,1398.5 107.9,1400.5 132.6,1409.1 157.3,1417.2 194.4,1426.3 231.4,1438.7 256.1,1445 275.7,1450.8 284.3,1452.2 305.8,1450.2 330.5,1449.3 342.9,1450.2 367.6,1447.9 392.3,1438.7 417,1429.2 429.4,1427.8 441.7,1425.5 454.1,1424.9 466.4,1421.5 478.8,1416.9 503.5,1410.5 515.8,1403.9 528.2,1400.5 540.5,1394.7 552.9,1391 577.6,1385.3 590,1383.8 614.7,1378.1 627,1373.2 639.4,1370.9 664.1,1369.8 688.8,1371.5 701.1,1371.2 725.8,1374.6 738.2,1375.5 740,1376.6 750.9,1377.2 763.3,1378.4 788,1379.5 800.3,1381.8 825,1385.3 849.7,1386.7 862.4,1389 887.1,1396.2 911.8,1403.4 936.5,1410 961.2,1413.4 985.9,1415.7 1010.6,1417.7 1035.3,1418.6 1060,1418 1085,1414 1109.7,1413.4 1122.1,1415.7 1134.4,1421.5 1146.8,1423.5 1183.8,1433 1208.5,1435.8 1233.2,1437.8 1245.6,1442.1 1270.3,1447.9 1282.7,1449.9 1295,1448.5 1307.4,1444.4 1319.7,1442.7 1344.4,1437.8 1356.8,1434.4 1381.8,1432.1 1394.1,1429.8 1418.8,1427.2 1443.5,1424.3 1468.2,1422 1471.5,1422 1493,1422.3 1530.1,1424.3 1554.8,1424 1579.5,1426.3 1591.9,1428.9 1616.9,1433.5 1629.2,1436.7 1666.3,1443.6 1703.3,1447.6 1740.4,1448.5 1752.7,1449.3 1765.1,1448.2 1789.8,1446.7 1802.1,1444.2 1814.5,1443.3 1826.8,1441.9 1851.6,1440.4 1876.3,1438.7 1901,1439 1913.6,1435.5 1926,1431.5 1938.3,1426.3 1950.7,1420 1963,1413.4 1987.7,1405.1 2000.1,1401.9 2012.4,1397 2024.8,1391.9 2037.1,1387.6 2049.5,1383.8 2061.8,1378.4 2074.2,1375.5 2086.5,1374.3 2098.9,1374.6 2111.2,1375.8 2123.6,1377.8 2136,1378.4 2160.7,1381.5 2173,1381.5 2185.4,1383 2185.7,1383 2198.1,1385.8 2210.5,1387.6 2222.8,1389.9 2235.2,1394.2 2247.5,1396.2 2259.9,1399.1 2284.6,1406.8 2296.9,1410 2309.3,1414.3 2334,1418.6 2358.7,1421.5 2383.4,1424.3 2395.7,1424.9 2408.1,1424 2432.8,1424 2457.5,1422.6 2470.1,1422.9 2482.5,1422 2494.9,1421.2 2507.2,1421.7 2519.6,1423.2 2531.9,1424 2556.6,1426.9 2581.3,1431.2 2593.7,1431.8 2606,1431.5 2618.4,1432.1 2643.1,1432.7 2655.4,1432.1 2680.1,1430.7 2692.5,1432.7 2704.8,1433 2717.2,1431.5 2729.6,1430.1 2741.9,1426.6 2754.3,1424.9 2766.6,1419.7 2779,1418.6 2791.3,1414.3 2803.7,1411.1 2816,1407.1 2828.4,1404.2 2840.7,1399.6 2853.1,1395.3" fill="none" stroke="#ffeb3b" stroke-width="2.8" stroke-linejoin="round" stroke-linecap="round"/>
<polyline points="21.8,1394.2 34.2,1395.3 46.6,1398.5 58.9,1402.5 71.3,1404.2 83.7,1399.9 96.1,1395.6 108.4,1416.9 120.8,1466.6 133.2,1461.4 145.5,1447.3 157.9,1447.9 170.3,1441.6 182.7,1443.6 195,1436.4 207.4,1451.3 219.8,1457.9 232.1,1473.2 244.5,1447.9 256.9,1457.1 269.2,1454.5 281.6,1443 294,1445 306.4,1447.9 318.7,1443.6 331.1,1441.3 343.5,1460 355.8,1425.5 368.2,1419.7 380.6,1391.3 393,1390.7 405.3,1395 417.7,1387.6 430.1,1435.5 442.4,1420.6 454.8,1441.6 467.2,1402.5 479.6,1381.8 491.9,1404.8 504.3,1383.3 516.7,1363.1 529,1384.7 541.4,1343 553.8,1336.4 566.2,1350.2 578.5,1353.7 590.9,1371.8 603.3,1388.1 615.6,1386.4 628,1368.3 640.4,1374.3 652.8,1378.1 665.1,1398.5 677.5,1390.4 689.9,1381.8 702.2,1377.5 714.6,1375.5 727,1363.1 739.3,1363.4 751.7,1356 764.1,1391 776.5,1396.8 788.8,1395.3 801.2,1402.8 813.6,1396.2 825.9,1401.9 838.3,1407.1 850.7,1403.7 863.1,1417.7 875.4,1430.4 887.8,1433.8 900.2,1419.5 912.5,1415.4 924.9,1412 937.3,1427.2 949.7,1419.2 962,1411.1 974.4,1418.6 986.8,1405.7 999.1,1410 1011.5,1423.5 1023.9,1416.9 1036.3,1417.7 1048.6,1432.7 1061,1426.6 1073.4,1377.5 1085.7,1392.7 1098.1,1412.8 1110.5,1419.2 1122.8,1457.9 1135.2,1488.7 1147.6,1445 1160,1449.9 1172.3,1457.9 1184.7,1466 1197.1,1443 1209.4,1436.4 1221.8,1442.1 1234.2,1437.8 1246.6,1437.3 1258.9,1436.4 1271.3,1449.3 1283.7,1446.5 1296,1437.8 1308.4,1432.7 1320.8,1417.4 1333.2,1412.8 1345.5,1421.2 1357.9,1421.5 1370.3,1426.9 1382.6,1419.2 1395,1410.3 1407.4,1420 1419.8,1420.9 1432.1,1428.6 1444.5,1426.3 1456.9,1426.3 1469.2,1424.6 1481.6,1433 1494,1419.2 1506.3,1425.5 1518.7,1428.4 1531.1,1435 1543.5,1424.9 1555.8,1414.6 1568.2,1426.3 1580.6,1435.5 1592.9,1463.1 1605.3,1457.7 1617.7,1462.3 1630.1,1471.7 1642.4,1455.9 1654.8,1459.7 1667.2,1451.9 1679.5,1443.3 1691.9,1446.5 1704.3,1453.6 1716.7,1421.2 1729,1419.2 1741.4,1435 1753.8,1449.9 1766.1,1445 1778.5,1452.2 1790.9,1452.2 1803.3,1435.3 1815.6,1441.3 1828,1434.4 1840.4,1447.9 1852.7,1435.3 1865.1,1435.5 1877.5,1433.5 1889.9,1425.8 1902.2,1422 1914.6,1386.1 1927,1383 1939.3,1369.5 1951.7,1358.8 1964.1,1380.4 1976.4,1379.5 1988.8,1377.8 2001.2,1395.6 2013.6,1375.5 2025.9,1355.4 2038.3,1373.2 2050.7,1378.9 2063,1356.8 2075.4,1382.7 2087.8,1374.6 2100.2,1385.8 2112.5,1382.1 2124.9,1390.1 2137.3,1383.8 2149.6,1412.8 2162,1399.1 2174.4,1390.7 2186.8,1395.9 2199.1,1393.6 2211.5,1395 2223.9,1414.9 2236.2,1423.5 2248.6,1407.1 2261,1415.4 2273.4,1436.1 2285.7,1436.1 2298.1,1433.5 2310.5,1445 2322.8,1450.2 2335.2,1428.6 2347.6,1402.5 2359.9,1424.9 2372.3,1411.1 2384.7,1411.7 2397.1,1422.6 2409.4,1406.8 2421.8,1416 2434.2,1411.1 2446.5,1421.5 2458.9,1434.1 2471.3,1435 2483.7,1435 2496,1433.5 2508.4,1437.3 2520.8,1422.9 2533.1,1433.5 2545.5,1432.1 2557.9,1439.3 2570.3,1450.2 2582.6,1442.7 2595,1420.6 2607.4,1404.2 2619.7,1435.8 2632.1,1434.1 2644.5,1438.4 2656.9,1424.3 2669.2,1426.9 2681.6,1427.2 2694,1449.6 2706.3,1438.7 2718.7,1409.7 2731.1,1420.3 2743.4,1400.8 2755.8,1420.9 2768.2,1340.7 2780.6,1390.4 2792.9,1378.1 2805.3,1393 2817.7,1383.3 2830,1380.4 2842.4,1365.2 2854.8,1360.8" fill="none" stroke="#7e57c2" stroke-width="2.8" stroke-linejoin="round" stroke-linecap="round"/>
</g>
<line x1="3441" y1="66" x2="3441" y2="1583.5" stroke="#4a4a4a" stroke-width="2.2"/>
<line x1="25" y1="1514.7" x2="3600" y2="1514.7" stroke="#4a4a4a" stroke-width="2.2"/>
<text x="45.6" y="115.1" font-size="28" fill="#505050" stroke="#505050" stroke-width="0.55" textLength="412.5" lengthAdjust="spacingAndGlyphs">XRP / U.S. Dollar, 1D, BINANCE</text>
<text x="478" y="115.1" font-size="28" fill="#505050" stroke="#505050" stroke-width="0.55" textLength="20" lengthAdjust="spacingAndGlyphs">O</text>
<text x="500" y="115.1" font-size="28" fill="#9a9da6" stroke="#9a9da6" stroke-width="0.55" textLength="84" lengthAdjust="spacingAndGlyphs">0.4793</text>
<text x="605.5" y="115.1" font-size="28" fill="#505050" stroke="#505050" stroke-width="0.55" textLength="19" lengthAdjust="spacingAndGlyphs">H</text>
<text x="626" y="115.1" font-size="28" fill="#9a9da6" stroke="#9a9da6" stroke-width="0.55" textLength="84" lengthAdjust="spacingAndGlyphs">0.4940</text>
<text x="731.8" y="115.1" font-size="28" fill="#505050" stroke="#505050" stroke-width="0.55">L</text>
<text x="746" y="115.1" font-size="28" fill="#9a9da6" stroke="#9a9da6" stroke-width="0.55" textLength="84" lengthAdjust="spacingAndGlyphs">0.4668</text>
<text x="850.5" y="115.1" font-size="28" fill="#505050" stroke="#505050" stroke-width="0.55" textLength="16.5" lengthAdjust="spacingAndGlyphs">C</text>
<text x="868.2" y="115.1" font-size="28" fill="#9a9da6" stroke="#9a9da6" stroke-width="0.55" textLength="84" lengthAdjust="spacingAndGlyphs">0.4890</text>
<text x="974" y="115.1" font-size="28" fill="#9a9da6" stroke="#9a9da6" stroke-width="0.55" textLength="215.5" lengthAdjust="spacingAndGlyphs">+0.0097 (+2.02%)</text>
<text x="45.6" y="157.3" font-size="28" fill="#505050" stroke="#505050" stroke-width="0.55" textLength="120.5" lengthAdjust="spacingAndGlyphs">Vol · XRP</text>
<text x="189.2" y="157.3" font-size="28" fill="#26a69a" stroke="#26a69a" stroke-width="0.55" textLength="89" lengthAdjust="spacingAndGlyphs">35.11M</text>
<text x="45.6" y="241.4" font-size="28" fill="#505050" stroke="#505050" stroke-width="0.55" textLength="120.5" lengthAdjust="spacingAndGlyphs">Vol · XRP</text>
<text x="189.2" y="241.4" font-size="28" fill="#26a69a" stroke="#26a69a" stroke-width="0.55" textLength="89" lengthAdjust="spacingAndGlyphs">35.11M</text>
<text x="45.6" y="199.2" font-size="28" fill="#505050" stroke="#505050" stroke-width="0.55" textLength="261.5" lengthAdjust="spacingAndGlyphs">EMA 20/50/100/200</text>
<text x="328.2" y="199.2" font-size="28" fill="#ff0000" stroke="#ff0000" stroke-width="0.55" textLength="83.5" lengthAdjust="spacingAndGlyphs">0.4203</text>
<text x="433.3" y="199.2" font-size="28" fill="#ff8000" stroke="#ff8000" stroke-width="0.55" textLength="83.8" lengthAdjust="spacingAndGlyphs">0.4007</text>
<text x="538" y="199.2" font-size="28" fill="#00ffff" stroke="#00ffff" stroke-width="0.55" textLength="84" lengthAdjust="spacingAndGlyphs">0.3950</text>
<text x="642.8" y="199.2" font-size="28" fill="#0000ff" stroke="#0000ff" stroke-width="0.55" textLength="84" lengthAdjust="spacingAndGlyphs">0.4085</text>
<text x="45.8" y="1362.5" font-size="28" fill="#505050" stroke="#505050" stroke-width="0.55" textLength="354" lengthAdjust="spacingAndGlyphs">RSI (14, close, SMA, 14, 2)</text>
<text x="420.7" y="1362.5" font-size="28" fill="#7e57c2" stroke="#7e57c2" stroke-width="0.55" textLength="69.6" lengthAdjust="spacingAndGlyphs">67.74</text>
<text x="511.8" y="1362.5" font-size="28" fill="#ffeb3b" stroke="#ffeb3b" stroke-width="0.55" textLength="67" lengthAdjust="spacingAndGlyphs">56.75</text>
<text x="603.5" y="1362.5" font-size="28" fill="#505050" stroke="#505050" stroke-width="0.55" textLength="22.5" lengthAdjust="spacingAndGlyphs">∅</text>
<text x="652.5" y="1362.5" font-size="28" fill="#505050" stroke="#505050" stroke-width="0.55" textLength="22.5" lengthAdjust="spacingAndGlyphs">∅</text>
<text x="3466" y="108.6" font-size="28" fill="#505050" stroke="#505050" stroke-width="0.55" textLength="46" lengthAdjust="spacingAndGlyphs">USD</text>
<text x="3464" y="249" font-size="28" fill="#505050" stroke="#505050" stroke-width="0.55" textLength="85" lengthAdjust="spacingAndGlyphs">0.5500</text>
<text x="3464" y="414.5" font-size="28" fill="#505050" stroke="#505050" stroke-width="0.55" textLength="85" lengthAdjust="spacingAndGlyphs">0.5000</text>
<text x="3464" y="580" font-size="28" fill="#505050" stroke="#505050" stroke-width="0.55" textLength="85" lengthAdjust="spacingAndGlyphs">0.4500</text>
<text x="3464" y="745.5" font-size="28" fill="#505050" stroke="#505050" stroke-width="0.55" textLength="85" lengthAdjust="spacingAndGlyphs">0.4000</text>
<text x="3464" y="911" font-size="28" fill="#505050" stroke="#505050" stroke-width="0.55" textLength="85" lengthAdjust="spacingAndGlyphs">0.3500</text>
<text x="3464" y="1076.5" font-size="28" fill="#505050" stroke="#505050" stroke-width="0.55" textLength="85" lengthAdjust="spacingAndGlyphs">0.3000</text>
<text x="3464" y="1242" font-size="28" fill="#505050" stroke="#505050" stroke-width="0.55" textLength="85" lengthAdjust="spacingAndGlyphs">0.2500</text>
<text x="3464" y="1346.6" font-size="28" fill="#505050" stroke="#505050" stroke-width="0.55" textLength="70" lengthAdjust="spacingAndGlyphs">75.00</text>
<text x="3464" y="1425" font-size="28" fill="#505050" stroke="#505050" stroke-width="0.55" textLength="70" lengthAdjust="spacingAndGlyphs">50.00</text>
<text x="3464" y="1503.4" font-size="28" fill="#505050" stroke="#505050" stroke-width="0.55" textLength="70" lengthAdjust="spacingAndGlyphs">25.00</text>
<path d="M3441 350 H3559 a4.5 4.5 0 0 1 4.5 4.5 V384.8 a4.5 4.5 0 0 1 -4.5 4.5 H3441 Z" fill="#2962ff"/>
<text x="3464" y="379.4" font-size="28" fill="#fff" stroke="#fff" stroke-width="0.55" textLength="85" lengthAdjust="spacingAndGlyphs">0.5108</text>
<path d="M3441 422 H3584 a4.5 4.5 0 0 1 4.5 4.5 V488.6 a4.5 4.5 0 0 1 -4.5 4.5 H3441 Z" fill="#26a69a"/>
<text x="3464" y="451.7" font-size="28" fill="#fff" stroke="#fff" stroke-width="0.55" textLength="85" lengthAdjust="spacingAndGlyphs">0.4890</text>
<text x="3465" y="483.6" font-size="28" fill="#c5e7e3" stroke="#c5e7e3" stroke-width="0.55" textLength="109" lengthAdjust="spacingAndGlyphs">16:59:24</text>
<path d="M3322.5 422 H3437.6 V461.6 H3322.5 a4.5 4.5 0 0 1 -4.5 -4.5 V426.5 a4.5 4.5 0 0 1 4.5 -4.5 Z" fill="#26a69a"/>
<text x="3329" y="451.7" font-size="28" fill="#fff" stroke="#fff" stroke-width="0.55" textLength="95" lengthAdjust="spacingAndGlyphs">XRPUSD</text>
<text x="260.4" y="1558.6" font-size="28" fill="#505050" stroke="#505050" stroke-width="0.55" textLength="41.5" lengthAdjust="spacingAndGlyphs">Sep</text>
<text x="630.1" y="1558.6" font-size="28" fill="#505050" stroke="#505050" stroke-width="0.55" textLength="45" lengthAdjust="spacingAndGlyphs">Oct</text>
<text x="1012.7" y="1558.6" font-size="28" fill="#505050" stroke="#505050" stroke-width="0.55" textLength="46.2" lengthAdjust="spacingAndGlyphs">Nov</text>
<text x="1384.2" y="1558.6" font-size="28" fill="#505050" stroke="#505050" stroke-width="0.55" textLength="45.1" lengthAdjust="spacingAndGlyphs">Dec</text>
<text x="1762.8" y="1558.6" font-size="28" fill="#3c3c3c" stroke="#3c3c3c" stroke-width="0.2" font-weight="bold" textLength="57.6" lengthAdjust="spacingAndGlyphs">2023</text>
<text x="2151.7" y="1558.6" font-size="28" fill="#505050" stroke="#505050" stroke-width="0.55" textLength="44.6" lengthAdjust="spacingAndGlyphs">Feb</text>
<text x="2497.3" y="1558.6" font-size="28" fill="#505050" stroke="#505050" stroke-width="0.55" textLength="46.2" lengthAdjust="spacingAndGlyphs">Mar</text>
<text x="2883.4" y="1558.6" font-size="28" fill="#505050" stroke="#505050" stroke-width="0.55" textLength="40.8" lengthAdjust="spacingAndGlyphs">Apr</text>
<text x="3249.9" y="1558.6" font-size="28" fill="#505050" stroke="#505050" stroke-width="0.55" textLength="48.9" lengthAdjust="spacingAndGlyphs">May</text>
<g>
<circle cx="2891.1" cy="1279.4" r="25.6" fill="#fff" stroke="#f23645" stroke-width="3"/>
<clipPath id="fl"><circle cx="2891.1" cy="1279.4" r="20"/></clipPath>
<g clip-path="url(#fl)">
<rect x="2871.1" y="1259.4" width="40" height="40" fill="#f7f8fc"/>
<rect x="2871.1" y="1257.4" width="40" height="6.1" fill="#ef5350"/>
<rect x="2871.1" y="1269.5" width="40" height="6.1" fill="#ef5350"/>
<rect x="2871.1" y="1281.6" width="40" height="6.1" fill="#ef5350"/>
<rect x="2871.1" y="1293.8" width="40" height="6.1" fill="#ef5350"/>
<rect x="2871.1" y="1259.4" width="24.5" height="24.5" fill="#1e88e5"/>
<circle cx="2876.1" cy="1265.9" r="1.8" fill="#fff"/>
<circle cx="2883.1" cy="1265.9" r="1.8" fill="#fff"/>
<circle cx="2890.1" cy="1265.9" r="1.8" fill="#fff"/>
<circle cx="2876.1" cy="1272.6" r="1.8" fill="#fff"/>
<circle cx="2883.1" cy="1272.6" r="1.8" fill="#fff"/>
<circle cx="2890.1" cy="1272.6" r="1.8" fill="#fff"/>
<circle cx="2876.1" cy="1279.3" r="1.8" fill="#fff"/>
<circle cx="2883.1" cy="1279.3" r="1.8" fill="#fff"/>
<circle cx="2890.1" cy="1279.3" r="1.8" fill="#fff"/>
</g></g>
<g fill="#131722">
<path d="M25.2 1614.5 H44.6 V1638.7 H35 V1623.8 H25.2 Z"/>
<circle cx="52.6" cy="1619.8" r="5.3"/>
<path d="M63.3 1614.5 H73.4 L63.3 1638.7 H52.9 Z"/>
</g>
<text x="82.8" y="1640.2" font-size="33" fill="#131722" stroke="#131722" stroke-width="0.55" textLength="177.5" lengthAdjust="spacingAndGlyphs">TradingView</text>
</svg>
</body></html>
